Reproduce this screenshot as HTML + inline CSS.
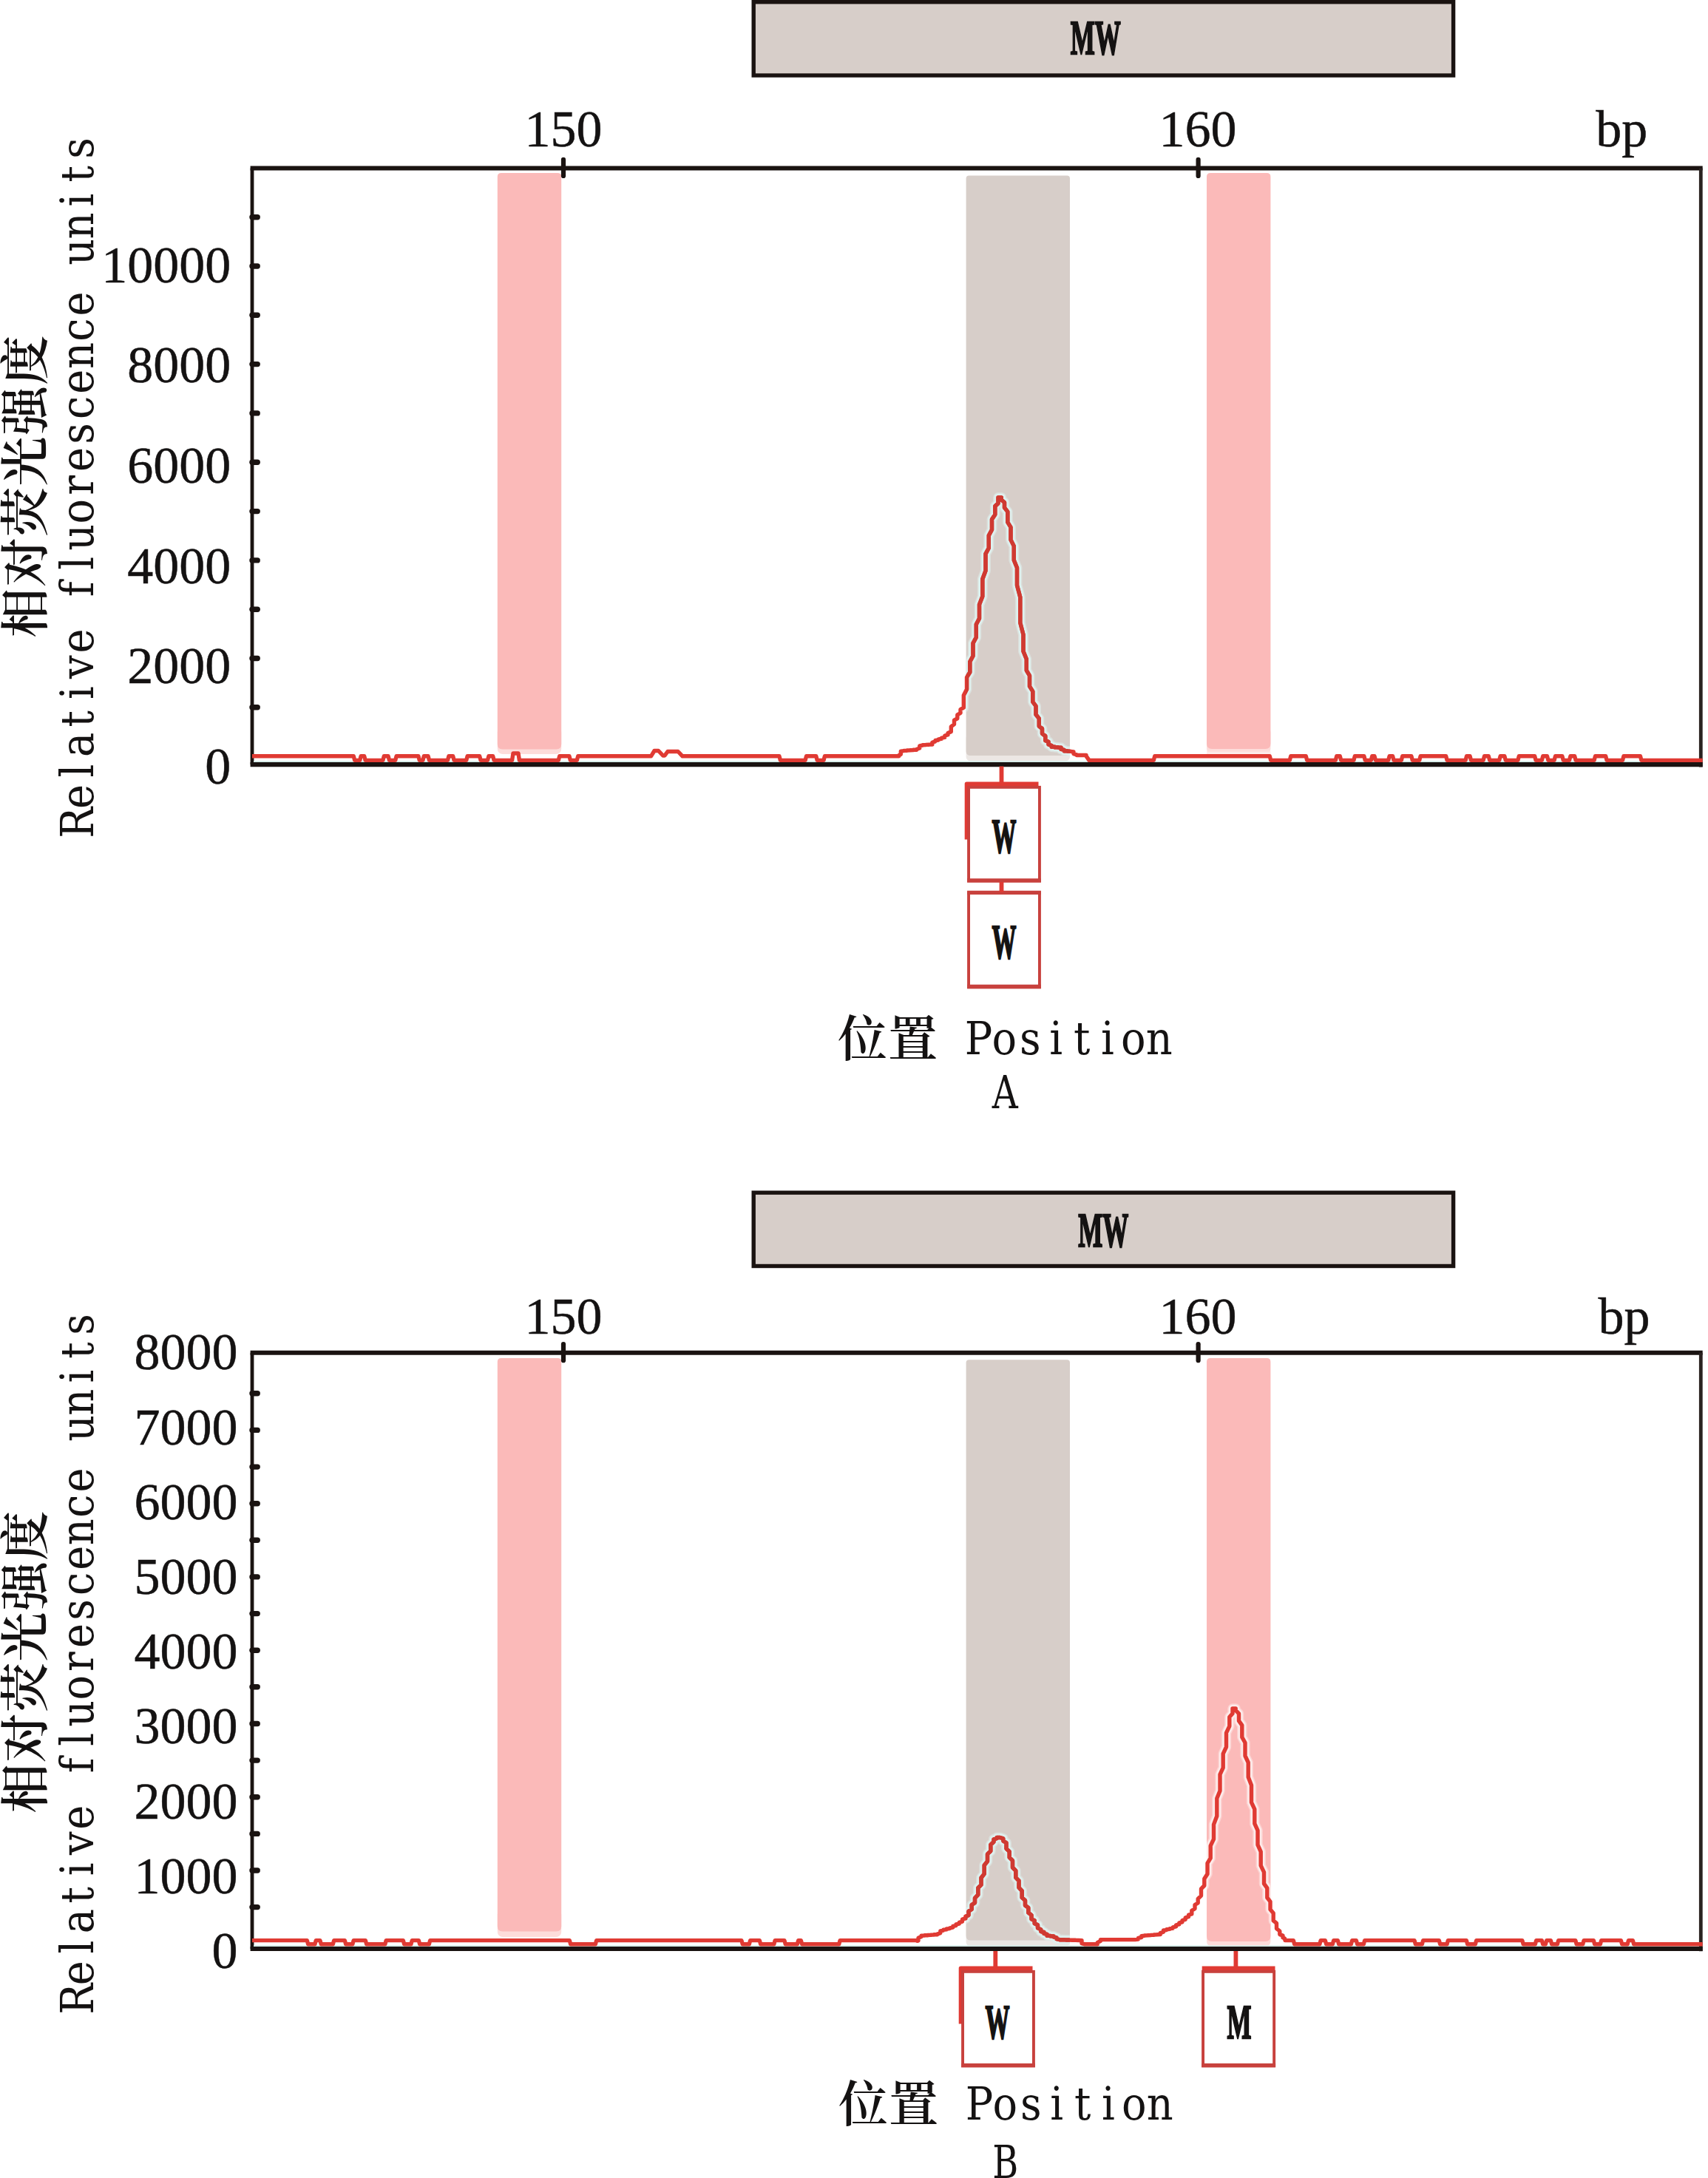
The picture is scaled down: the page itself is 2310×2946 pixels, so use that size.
<!DOCTYPE html>
<html lang="zh"><head><meta charset="utf-8"><title>MW</title>
<style>
html,body{margin:0;padding:0;background:#fff;}
svg{display:block}
.num{font-family:"Liberation Serif","Noto Serif CJK SC",serif;font-size:70px;fill:#141212;stroke:#141212;stroke-width:0.5px;}
.mono{font-family:"DejaVu Serif Condensed","DejaVu Serif","Liberation Serif",serif;font-size:62px;fill:#141212;text-anchor:middle;}
.cjk{font-family:"Liberation Serif","Noto Serif CJK SC",serif;font-size:67px;font-weight:600;fill:#141212;text-anchor:middle;}
.bold{font-family:"Liberation Serif","Noto Serif CJK SC",serif;font-weight:bold;font-size:66px;fill:#141212;stroke:#141212;stroke-width:2.4px;}
</style></head><body>
<svg width="2310" height="2946" viewBox="0 0 2310 2946">
<rect width="2310" height="2946" fill="#fff"/>
<rect x="672.8" y="983.5" width="86.4" height="36.5" rx="7" fill="#fddcda"/>
<path d="M672.8 239 Q672.8 234 677.8 234 H754.1999999999999 Q759.1999999999999 234 759.1999999999999 239 V1006.5 Q759.1999999999999 1013.5 752.1999999999999 1013.5 H679.8 Q672.8 1013.5 672.8 1006.5 Z" fill="#fbbab9"/>
<rect x="1632" y="983" width="86.4" height="37" rx="7" fill="#fddcda"/>
<path d="M1632 239 Q1632 234 1637 234 H1713.4 Q1718.4 234 1718.4 239 V1006 Q1718.4 1013 1711.4 1013 H1639 Q1632 1013 1632 1006 Z" fill="#fbbab9"/>
<rect x="1306.6" y="992" width="140.4" height="37.5" rx="6" fill="#ece7e4"/>
<path d="M1306.6 241.5 Q1306.6 237.5 1310.6 237.5 H1443.0 Q1447.0 237.5 1447.0 241.5 V1016 Q1447.0 1022 1441.0 1022 H1312.6 Q1306.6 1022 1306.6 1016 Z" fill="#d7cec9"/>
<clipPath id="ag"><rect x="1306.6" y="237.5" width="140.4" height="792.0"/></clipPath>
<clipPath id="ap"><rect x="1632" y="234" width="86.4" height="786"/></clipPath>
<g clip-path="url(#ag)"><polyline points="341.0,1022.8 478.3,1022.8 479.7,1028.4 486.7,1028.4 488.1,1022.8 492.7,1022.8 494.1,1028.4 517.9,1028.4 519.3,1022.8 525.1,1022.8 526.5,1028.4 534.7,1028.4 536.1,1022.8 565.9,1022.8 567.3,1028.4 571.9,1028.4 573.3,1022.8 579.1,1022.8 580.5,1028.4 605.5,1028.4 606.9,1022.8 612.7,1022.8 614.1,1028.4 630.7,1028.4 632.1,1022.8 648.7,1022.8 650.1,1028.4 659.5,1028.4 660.9,1022.8 666.7,1022.8 668.1,1028.4 692.0,1028.4 692.6,1028.4 694.0,1019.0 701.0,1019.0 702.4,1028.4 703.0,1028.4 755.3,1028.4 756.7,1022.8 770.0,1022.8 771.4,1028.4 780.3,1028.4 781.7,1022.8 880.0,1022.8 880.5,1022.8 885.0,1015.5 890.5,1015.5 896.6,1022.0 899.0,1022.0 903.0,1016.5 917.0,1016.5 923.0,1022.8 923.5,1022.8 1054.0,1022.8 1055.4,1028.4 1089.1,1028.4 1090.5,1022.8 1103.8,1022.8 1105.2,1028.4 1114.0,1028.4 1115.4,1022.8 1215.7,1022.8 1216.0,1021.5 1218.3,1020.3 1218.3,1016.1 1222.5,1015.6 1222.5,1015.4 1226.8,1015.3 1226.8,1015.0 1231.0,1014.9 1231.0,1014.7 1235.3,1014.6 1235.3,1014.3 1239.5,1014.2 1239.5,1013.5 1243.8,1012.0 1243.8,1008.8 1248.0,1008.0 1248.0,1007.7 1252.3,1007.6 1252.3,1007.4 1256.5,1007.3 1256.5,1007.1 1260.8,1007.0 1260.8,1004.3 1265.0,1002.9 1265.0,1001.5 1269.3,1001.0 1269.3,999.9 1273.5,999.4 1273.5,998.2 1277.8,997.4 1277.8,995.0 1282.0,993.9 1282.0,991.5 1286.3,989.7 1286.3,982.9 1290.5,979.7 1290.5,974.2 1294.8,971.8 1294.8,966.9 1299.0,964.5 1299.0,959.6 1303.3,957.2 1303.3,940.4 1307.5,932.2 1307.5,916.1 1311.8,909.3 1311.8,895.0 1316.0,887.3 1316.0,870.1 1320.3,862.0 1320.3,844.6 1324.5,836.4 1324.5,817.7 1328.8,806.7 1328.8,783.3 1333.0,772.0 1333.0,749.1 1337.3,741.2 1337.3,724.3 1341.5,716.5 1341.5,702.5 1345.8,696.0 1345.8,684.6 1350.0,680.9 1350.0,673.0 1354.3,673.0 1354.3,676.1 1358.5,679.5 1358.5,686.7 1362.8,692.2 1362.8,706.4 1367.0,713.1 1367.0,730.1 1371.3,738.6 1371.3,757.7 1375.5,768.0 1375.5,791.7 1379.8,807.8 1379.8,842.4 1384.0,858.4 1384.0,881.0 1388.3,891.6 1388.3,906.8 1392.5,913.8 1392.5,928.4 1396.8,935.1 1396.8,949.3 1401.0,955.0 1401.0,966.5 1405.3,971.9 1405.3,982.3 1409.5,985.5 1409.5,992.3 1413.8,995.5 1413.8,1001.7 1418.0,1003.3 1418.0,1006.9 1422.3,1008.6 1422.3,1010.2 1426.5,1010.3 1426.5,1010.7 1430.8,1010.8 1430.8,1011.1 1435.0,1011.3 1435.0,1013.4 1439.3,1014.4 1439.3,1015.8 1443.5,1015.8 1443.5,1016.0 1447.8,1016.1 1447.8,1016.3 1452.0,1017.0 1452.0,1019.6 1456.3,1020.8 1456.3,1021.5 1460.5,1021.5 1460.5,1021.5 1464.8,1021.5 1464.8,1021.5 1469.0,1021.5 1469.0,1022.6 1473.0,1028.4 1474.0,1028.4 1560.3,1028.4 1561.7,1022.8 1717.3,1022.8 1718.7,1028.4 1744.3,1028.4 1745.7,1022.8 1766.3,1022.8 1767.7,1028.4 1806.3,1028.4 1807.7,1022.8 1812.3,1022.8 1813.7,1028.4 1830.9,1028.4 1832.3,1022.8 1844.9,1022.8 1846.3,1028.4 1854.3,1028.4 1855.7,1022.8 1859.0,1022.8 1860.4,1028.4 1877.7,1028.4 1879.1,1022.8 1883.6,1022.8 1885.0,1028.4 1895.3,1028.4 1896.7,1022.8 1908.9,1022.8 1910.3,1028.4 1919.7,1028.4 1921.1,1022.8 1955.7,1022.8 1957.1,1028.4 1982.1,1028.4 1983.5,1022.8 1988.1,1022.8 1989.5,1028.4 2006.1,1028.4 2007.5,1022.8 2013.3,1022.8 2014.7,1028.4 2027.7,1028.4 2029.1,1022.8 2034.9,1022.8 2036.3,1028.4 2052.9,1028.4 2054.3,1022.8 2075.7,1022.8 2077.1,1028.4 2085.3,1028.4 2086.7,1022.8 2092.5,1022.8 2093.9,1028.4 2102.1,1028.4 2103.5,1022.8 2112.9,1022.8 2114.3,1028.4 2122.5,1028.4 2123.9,1022.8 2129.7,1022.8 2131.1,1028.4 2156.1,1028.4 2157.5,1022.8 2171.7,1022.8 2173.1,1028.4 2194.5,1028.4 2195.9,1022.8 2218.5,1022.8 2219.9,1028.4 2302.6,1028.4" fill="none" stroke="#dff0ee" stroke-opacity="0.5" stroke-width="14" stroke-linejoin="round"/>
<polyline points="341.0,1022.8 478.3,1022.8 479.7,1028.4 486.7,1028.4 488.1,1022.8 492.7,1022.8 494.1,1028.4 517.9,1028.4 519.3,1022.8 525.1,1022.8 526.5,1028.4 534.7,1028.4 536.1,1022.8 565.9,1022.8 567.3,1028.4 571.9,1028.4 573.3,1022.8 579.1,1022.8 580.5,1028.4 605.5,1028.4 606.9,1022.8 612.7,1022.8 614.1,1028.4 630.7,1028.4 632.1,1022.8 648.7,1022.8 650.1,1028.4 659.5,1028.4 660.9,1022.8 666.7,1022.8 668.1,1028.4 692.0,1028.4 692.6,1028.4 694.0,1019.0 701.0,1019.0 702.4,1028.4 703.0,1028.4 755.3,1028.4 756.7,1022.8 770.0,1022.8 771.4,1028.4 780.3,1028.4 781.7,1022.8 880.0,1022.8 880.5,1022.8 885.0,1015.5 890.5,1015.5 896.6,1022.0 899.0,1022.0 903.0,1016.5 917.0,1016.5 923.0,1022.8 923.5,1022.8 1054.0,1022.8 1055.4,1028.4 1089.1,1028.4 1090.5,1022.8 1103.8,1022.8 1105.2,1028.4 1114.0,1028.4 1115.4,1022.8 1215.7,1022.8 1216.0,1021.5 1218.3,1020.3 1218.3,1016.1 1222.5,1015.6 1222.5,1015.4 1226.8,1015.3 1226.8,1015.0 1231.0,1014.9 1231.0,1014.7 1235.3,1014.6 1235.3,1014.3 1239.5,1014.2 1239.5,1013.5 1243.8,1012.0 1243.8,1008.8 1248.0,1008.0 1248.0,1007.7 1252.3,1007.6 1252.3,1007.4 1256.5,1007.3 1256.5,1007.1 1260.8,1007.0 1260.8,1004.3 1265.0,1002.9 1265.0,1001.5 1269.3,1001.0 1269.3,999.9 1273.5,999.4 1273.5,998.2 1277.8,997.4 1277.8,995.0 1282.0,993.9 1282.0,991.5 1286.3,989.7 1286.3,982.9 1290.5,979.7 1290.5,974.2 1294.8,971.8 1294.8,966.9 1299.0,964.5 1299.0,959.6 1303.3,957.2 1303.3,940.4 1307.5,932.2 1307.5,916.1 1311.8,909.3 1311.8,895.0 1316.0,887.3 1316.0,870.1 1320.3,862.0 1320.3,844.6 1324.5,836.4 1324.5,817.7 1328.8,806.7 1328.8,783.3 1333.0,772.0 1333.0,749.1 1337.3,741.2 1337.3,724.3 1341.5,716.5 1341.5,702.5 1345.8,696.0 1345.8,684.6 1350.0,680.9 1350.0,673.0 1354.3,673.0 1354.3,676.1 1358.5,679.5 1358.5,686.7 1362.8,692.2 1362.8,706.4 1367.0,713.1 1367.0,730.1 1371.3,738.6 1371.3,757.7 1375.5,768.0 1375.5,791.7 1379.8,807.8 1379.8,842.4 1384.0,858.4 1384.0,881.0 1388.3,891.6 1388.3,906.8 1392.5,913.8 1392.5,928.4 1396.8,935.1 1396.8,949.3 1401.0,955.0 1401.0,966.5 1405.3,971.9 1405.3,982.3 1409.5,985.5 1409.5,992.3 1413.8,995.5 1413.8,1001.7 1418.0,1003.3 1418.0,1006.9 1422.3,1008.6 1422.3,1010.2 1426.5,1010.3 1426.5,1010.7 1430.8,1010.8 1430.8,1011.1 1435.0,1011.3 1435.0,1013.4 1439.3,1014.4 1439.3,1015.8 1443.5,1015.8 1443.5,1016.0 1447.8,1016.1 1447.8,1016.3 1452.0,1017.0 1452.0,1019.6 1456.3,1020.8 1456.3,1021.5 1460.5,1021.5 1460.5,1021.5 1464.8,1021.5 1464.8,1021.5 1469.0,1021.5 1469.0,1022.6 1473.0,1028.4 1474.0,1028.4 1560.3,1028.4 1561.7,1022.8 1717.3,1022.8 1718.7,1028.4 1744.3,1028.4 1745.7,1022.8 1766.3,1022.8 1767.7,1028.4 1806.3,1028.4 1807.7,1022.8 1812.3,1022.8 1813.7,1028.4 1830.9,1028.4 1832.3,1022.8 1844.9,1022.8 1846.3,1028.4 1854.3,1028.4 1855.7,1022.8 1859.0,1022.8 1860.4,1028.4 1877.7,1028.4 1879.1,1022.8 1883.6,1022.8 1885.0,1028.4 1895.3,1028.4 1896.7,1022.8 1908.9,1022.8 1910.3,1028.4 1919.7,1028.4 1921.1,1022.8 1955.7,1022.8 1957.1,1028.4 1982.1,1028.4 1983.5,1022.8 1988.1,1022.8 1989.5,1028.4 2006.1,1028.4 2007.5,1022.8 2013.3,1022.8 2014.7,1028.4 2027.7,1028.4 2029.1,1022.8 2034.9,1022.8 2036.3,1028.4 2052.9,1028.4 2054.3,1022.8 2075.7,1022.8 2077.1,1028.4 2085.3,1028.4 2086.7,1022.8 2092.5,1022.8 2093.9,1028.4 2102.1,1028.4 2103.5,1022.8 2112.9,1022.8 2114.3,1028.4 2122.5,1028.4 2123.9,1022.8 2129.7,1022.8 2131.1,1028.4 2156.1,1028.4 2157.5,1022.8 2171.7,1022.8 2173.1,1028.4 2194.5,1028.4 2195.9,1022.8 2218.5,1022.8 2219.9,1028.4 2302.6,1028.4" fill="none" stroke="#dff0ee" stroke-width="11" stroke-linejoin="round"/></g>
<g clip-path="url(#ap)"><polyline points="341.0,1022.8 478.3,1022.8 479.7,1028.4 486.7,1028.4 488.1,1022.8 492.7,1022.8 494.1,1028.4 517.9,1028.4 519.3,1022.8 525.1,1022.8 526.5,1028.4 534.7,1028.4 536.1,1022.8 565.9,1022.8 567.3,1028.4 571.9,1028.4 573.3,1022.8 579.1,1022.8 580.5,1028.4 605.5,1028.4 606.9,1022.8 612.7,1022.8 614.1,1028.4 630.7,1028.4 632.1,1022.8 648.7,1022.8 650.1,1028.4 659.5,1028.4 660.9,1022.8 666.7,1022.8 668.1,1028.4 692.0,1028.4 692.6,1028.4 694.0,1019.0 701.0,1019.0 702.4,1028.4 703.0,1028.4 755.3,1028.4 756.7,1022.8 770.0,1022.8 771.4,1028.4 780.3,1028.4 781.7,1022.8 880.0,1022.8 880.5,1022.8 885.0,1015.5 890.5,1015.5 896.6,1022.0 899.0,1022.0 903.0,1016.5 917.0,1016.5 923.0,1022.8 923.5,1022.8 1054.0,1022.8 1055.4,1028.4 1089.1,1028.4 1090.5,1022.8 1103.8,1022.8 1105.2,1028.4 1114.0,1028.4 1115.4,1022.8 1215.7,1022.8 1216.0,1021.5 1218.3,1020.3 1218.3,1016.1 1222.5,1015.6 1222.5,1015.4 1226.8,1015.3 1226.8,1015.0 1231.0,1014.9 1231.0,1014.7 1235.3,1014.6 1235.3,1014.3 1239.5,1014.2 1239.5,1013.5 1243.8,1012.0 1243.8,1008.8 1248.0,1008.0 1248.0,1007.7 1252.3,1007.6 1252.3,1007.4 1256.5,1007.3 1256.5,1007.1 1260.8,1007.0 1260.8,1004.3 1265.0,1002.9 1265.0,1001.5 1269.3,1001.0 1269.3,999.9 1273.5,999.4 1273.5,998.2 1277.8,997.4 1277.8,995.0 1282.0,993.9 1282.0,991.5 1286.3,989.7 1286.3,982.9 1290.5,979.7 1290.5,974.2 1294.8,971.8 1294.8,966.9 1299.0,964.5 1299.0,959.6 1303.3,957.2 1303.3,940.4 1307.5,932.2 1307.5,916.1 1311.8,909.3 1311.8,895.0 1316.0,887.3 1316.0,870.1 1320.3,862.0 1320.3,844.6 1324.5,836.4 1324.5,817.7 1328.8,806.7 1328.8,783.3 1333.0,772.0 1333.0,749.1 1337.3,741.2 1337.3,724.3 1341.5,716.5 1341.5,702.5 1345.8,696.0 1345.8,684.6 1350.0,680.9 1350.0,673.0 1354.3,673.0 1354.3,676.1 1358.5,679.5 1358.5,686.7 1362.8,692.2 1362.8,706.4 1367.0,713.1 1367.0,730.1 1371.3,738.6 1371.3,757.7 1375.5,768.0 1375.5,791.7 1379.8,807.8 1379.8,842.4 1384.0,858.4 1384.0,881.0 1388.3,891.6 1388.3,906.8 1392.5,913.8 1392.5,928.4 1396.8,935.1 1396.8,949.3 1401.0,955.0 1401.0,966.5 1405.3,971.9 1405.3,982.3 1409.5,985.5 1409.5,992.3 1413.8,995.5 1413.8,1001.7 1418.0,1003.3 1418.0,1006.9 1422.3,1008.6 1422.3,1010.2 1426.5,1010.3 1426.5,1010.7 1430.8,1010.8 1430.8,1011.1 1435.0,1011.3 1435.0,1013.4 1439.3,1014.4 1439.3,1015.8 1443.5,1015.8 1443.5,1016.0 1447.8,1016.1 1447.8,1016.3 1452.0,1017.0 1452.0,1019.6 1456.3,1020.8 1456.3,1021.5 1460.5,1021.5 1460.5,1021.5 1464.8,1021.5 1464.8,1021.5 1469.0,1021.5 1469.0,1022.6 1473.0,1028.4 1474.0,1028.4 1560.3,1028.4 1561.7,1022.8 1717.3,1022.8 1718.7,1028.4 1744.3,1028.4 1745.7,1022.8 1766.3,1022.8 1767.7,1028.4 1806.3,1028.4 1807.7,1022.8 1812.3,1022.8 1813.7,1028.4 1830.9,1028.4 1832.3,1022.8 1844.9,1022.8 1846.3,1028.4 1854.3,1028.4 1855.7,1022.8 1859.0,1022.8 1860.4,1028.4 1877.7,1028.4 1879.1,1022.8 1883.6,1022.8 1885.0,1028.4 1895.3,1028.4 1896.7,1022.8 1908.9,1022.8 1910.3,1028.4 1919.7,1028.4 1921.1,1022.8 1955.7,1022.8 1957.1,1028.4 1982.1,1028.4 1983.5,1022.8 1988.1,1022.8 1989.5,1028.4 2006.1,1028.4 2007.5,1022.8 2013.3,1022.8 2014.7,1028.4 2027.7,1028.4 2029.1,1022.8 2034.9,1022.8 2036.3,1028.4 2052.9,1028.4 2054.3,1022.8 2075.7,1022.8 2077.1,1028.4 2085.3,1028.4 2086.7,1022.8 2092.5,1022.8 2093.9,1028.4 2102.1,1028.4 2103.5,1022.8 2112.9,1022.8 2114.3,1028.4 2122.5,1028.4 2123.9,1022.8 2129.7,1022.8 2131.1,1028.4 2156.1,1028.4 2157.5,1022.8 2171.7,1022.8 2173.1,1028.4 2194.5,1028.4 2195.9,1022.8 2218.5,1022.8 2219.9,1028.4 2302.6,1028.4" fill="none" stroke="#fde3e1" stroke-opacity="0.6" stroke-width="13.5" stroke-linejoin="round"/>
<polyline points="341.0,1022.8 478.3,1022.8 479.7,1028.4 486.7,1028.4 488.1,1022.8 492.7,1022.8 494.1,1028.4 517.9,1028.4 519.3,1022.8 525.1,1022.8 526.5,1028.4 534.7,1028.4 536.1,1022.8 565.9,1022.8 567.3,1028.4 571.9,1028.4 573.3,1022.8 579.1,1022.8 580.5,1028.4 605.5,1028.4 606.9,1022.8 612.7,1022.8 614.1,1028.4 630.7,1028.4 632.1,1022.8 648.7,1022.8 650.1,1028.4 659.5,1028.4 660.9,1022.8 666.7,1022.8 668.1,1028.4 692.0,1028.4 692.6,1028.4 694.0,1019.0 701.0,1019.0 702.4,1028.4 703.0,1028.4 755.3,1028.4 756.7,1022.8 770.0,1022.8 771.4,1028.4 780.3,1028.4 781.7,1022.8 880.0,1022.8 880.5,1022.8 885.0,1015.5 890.5,1015.5 896.6,1022.0 899.0,1022.0 903.0,1016.5 917.0,1016.5 923.0,1022.8 923.5,1022.8 1054.0,1022.8 1055.4,1028.4 1089.1,1028.4 1090.5,1022.8 1103.8,1022.8 1105.2,1028.4 1114.0,1028.4 1115.4,1022.8 1215.7,1022.8 1216.0,1021.5 1218.3,1020.3 1218.3,1016.1 1222.5,1015.6 1222.5,1015.4 1226.8,1015.3 1226.8,1015.0 1231.0,1014.9 1231.0,1014.7 1235.3,1014.6 1235.3,1014.3 1239.5,1014.2 1239.5,1013.5 1243.8,1012.0 1243.8,1008.8 1248.0,1008.0 1248.0,1007.7 1252.3,1007.6 1252.3,1007.4 1256.5,1007.3 1256.5,1007.1 1260.8,1007.0 1260.8,1004.3 1265.0,1002.9 1265.0,1001.5 1269.3,1001.0 1269.3,999.9 1273.5,999.4 1273.5,998.2 1277.8,997.4 1277.8,995.0 1282.0,993.9 1282.0,991.5 1286.3,989.7 1286.3,982.9 1290.5,979.7 1290.5,974.2 1294.8,971.8 1294.8,966.9 1299.0,964.5 1299.0,959.6 1303.3,957.2 1303.3,940.4 1307.5,932.2 1307.5,916.1 1311.8,909.3 1311.8,895.0 1316.0,887.3 1316.0,870.1 1320.3,862.0 1320.3,844.6 1324.5,836.4 1324.5,817.7 1328.8,806.7 1328.8,783.3 1333.0,772.0 1333.0,749.1 1337.3,741.2 1337.3,724.3 1341.5,716.5 1341.5,702.5 1345.8,696.0 1345.8,684.6 1350.0,680.9 1350.0,673.0 1354.3,673.0 1354.3,676.1 1358.5,679.5 1358.5,686.7 1362.8,692.2 1362.8,706.4 1367.0,713.1 1367.0,730.1 1371.3,738.6 1371.3,757.7 1375.5,768.0 1375.5,791.7 1379.8,807.8 1379.8,842.4 1384.0,858.4 1384.0,881.0 1388.3,891.6 1388.3,906.8 1392.5,913.8 1392.5,928.4 1396.8,935.1 1396.8,949.3 1401.0,955.0 1401.0,966.5 1405.3,971.9 1405.3,982.3 1409.5,985.5 1409.5,992.3 1413.8,995.5 1413.8,1001.7 1418.0,1003.3 1418.0,1006.9 1422.3,1008.6 1422.3,1010.2 1426.5,1010.3 1426.5,1010.7 1430.8,1010.8 1430.8,1011.1 1435.0,1011.3 1435.0,1013.4 1439.3,1014.4 1439.3,1015.8 1443.5,1015.8 1443.5,1016.0 1447.8,1016.1 1447.8,1016.3 1452.0,1017.0 1452.0,1019.6 1456.3,1020.8 1456.3,1021.5 1460.5,1021.5 1460.5,1021.5 1464.8,1021.5 1464.8,1021.5 1469.0,1021.5 1469.0,1022.6 1473.0,1028.4 1474.0,1028.4 1560.3,1028.4 1561.7,1022.8 1717.3,1022.8 1718.7,1028.4 1744.3,1028.4 1745.7,1022.8 1766.3,1022.8 1767.7,1028.4 1806.3,1028.4 1807.7,1022.8 1812.3,1022.8 1813.7,1028.4 1830.9,1028.4 1832.3,1022.8 1844.9,1022.8 1846.3,1028.4 1854.3,1028.4 1855.7,1022.8 1859.0,1022.8 1860.4,1028.4 1877.7,1028.4 1879.1,1022.8 1883.6,1022.8 1885.0,1028.4 1895.3,1028.4 1896.7,1022.8 1908.9,1022.8 1910.3,1028.4 1919.7,1028.4 1921.1,1022.8 1955.7,1022.8 1957.1,1028.4 1982.1,1028.4 1983.5,1022.8 1988.1,1022.8 1989.5,1028.4 2006.1,1028.4 2007.5,1022.8 2013.3,1022.8 2014.7,1028.4 2027.7,1028.4 2029.1,1022.8 2034.9,1022.8 2036.3,1028.4 2052.9,1028.4 2054.3,1022.8 2075.7,1022.8 2077.1,1028.4 2085.3,1028.4 2086.7,1022.8 2092.5,1022.8 2093.9,1028.4 2102.1,1028.4 2103.5,1022.8 2112.9,1022.8 2114.3,1028.4 2122.5,1028.4 2123.9,1022.8 2129.7,1022.8 2131.1,1028.4 2156.1,1028.4 2157.5,1022.8 2171.7,1022.8 2173.1,1028.4 2194.5,1028.4 2195.9,1022.8 2218.5,1022.8 2219.9,1028.4 2302.6,1028.4" fill="none" stroke="#fdeceb" stroke-width="10.5" stroke-linejoin="round"/></g>
<line x1="338.6" y1="227.4" x2="2302.7" y2="227.4" stroke="#1a1311" stroke-width="6"/>
<line x1="341" y1="1034.1" x2="341" y2="227.4" stroke="#1a1311" stroke-width="4.8"/>
<line x1="2300.3" y1="227.4" x2="2300.3" y2="1037.3999999999999" stroke="#2a2220" stroke-width="4.8"/>
<line x1="343" y1="1030.1999999999998" x2="2298" y2="1030.1999999999998" stroke="#d3ebe7" stroke-width="1.8"/>
<line x1="338.6" y1="1034.1" x2="2302.7" y2="1034.1" stroke="#1a1311" stroke-width="6.2"/>
<line x1="341" y1="293.7" x2="348.2" y2="293.7" stroke="#1a1311" stroke-width="7.4" stroke-linecap="round"/>
<line x1="341" y1="360.0" x2="348.2" y2="360.0" stroke="#1a1311" stroke-width="7.4" stroke-linecap="round"/>
<line x1="341" y1="426.3" x2="348.2" y2="426.3" stroke="#1a1311" stroke-width="7.4" stroke-linecap="round"/>
<line x1="341" y1="492.6" x2="348.2" y2="492.6" stroke="#1a1311" stroke-width="7.4" stroke-linecap="round"/>
<line x1="341" y1="558.9" x2="348.2" y2="558.9" stroke="#1a1311" stroke-width="7.4" stroke-linecap="round"/>
<line x1="341" y1="625.2" x2="348.2" y2="625.2" stroke="#1a1311" stroke-width="7.4" stroke-linecap="round"/>
<line x1="341" y1="691.6" x2="348.2" y2="691.6" stroke="#1a1311" stroke-width="7.4" stroke-linecap="round"/>
<line x1="341" y1="757.9" x2="348.2" y2="757.9" stroke="#1a1311" stroke-width="7.4" stroke-linecap="round"/>
<line x1="341" y1="824.2" x2="348.2" y2="824.2" stroke="#1a1311" stroke-width="7.4" stroke-linecap="round"/>
<line x1="341" y1="890.5" x2="348.2" y2="890.5" stroke="#1a1311" stroke-width="7.4" stroke-linecap="round"/>
<line x1="341" y1="956.8" x2="348.2" y2="956.8" stroke="#1a1311" stroke-width="7.4" stroke-linecap="round"/>
<line x1="762" y1="215.9" x2="762" y2="237.9" stroke="#1a1311" stroke-width="6.2" stroke-linecap="round"/>
<line x1="1620.6" y1="215.9" x2="1620.6" y2="237.9" stroke="#1a1311" stroke-width="6.2" stroke-linecap="round"/>
<polyline points="341.0,1022.8 478.3,1022.8 479.7,1028.4 486.7,1028.4 488.1,1022.8 492.7,1022.8 494.1,1028.4 517.9,1028.4 519.3,1022.8 525.1,1022.8 526.5,1028.4 534.7,1028.4 536.1,1022.8 565.9,1022.8 567.3,1028.4 571.9,1028.4 573.3,1022.8 579.1,1022.8 580.5,1028.4 605.5,1028.4 606.9,1022.8 612.7,1022.8 614.1,1028.4 630.7,1028.4 632.1,1022.8 648.7,1022.8 650.1,1028.4 659.5,1028.4 660.9,1022.8 666.7,1022.8 668.1,1028.4 692.0,1028.4 692.6,1028.4 694.0,1019.0 701.0,1019.0 702.4,1028.4 703.0,1028.4 755.3,1028.4 756.7,1022.8 770.0,1022.8 771.4,1028.4 780.3,1028.4 781.7,1022.8 880.0,1022.8 880.5,1022.8 885.0,1015.5 890.5,1015.5 896.6,1022.0 899.0,1022.0 903.0,1016.5 917.0,1016.5 923.0,1022.8 923.5,1022.8 1054.0,1022.8 1055.4,1028.4 1089.1,1028.4 1090.5,1022.8 1103.8,1022.8 1105.2,1028.4 1114.0,1028.4 1115.4,1022.8 1215.7,1022.8 1216.0,1021.5 1218.3,1020.3 1218.3,1016.1 1222.5,1015.6 1222.5,1015.4 1226.8,1015.3 1226.8,1015.0 1231.0,1014.9 1231.0,1014.7 1235.3,1014.6 1235.3,1014.3 1239.5,1014.2 1239.5,1013.5 1243.8,1012.0 1243.8,1008.8 1248.0,1008.0 1248.0,1007.7 1252.3,1007.6 1252.3,1007.4 1256.5,1007.3 1256.5,1007.1 1260.8,1007.0 1260.8,1004.3 1265.0,1002.9 1265.0,1001.5 1269.3,1001.0 1269.3,999.9 1273.5,999.4 1273.5,998.2 1277.8,997.4 1277.8,995.0 1282.0,993.9 1282.0,991.5 1286.3,989.7 1286.3,982.9 1290.5,979.7 1290.5,974.2 1294.8,971.8 1294.8,966.9 1299.0,964.5 1299.0,959.6 1303.3,957.2 1303.3,940.4 1307.5,932.2 1307.5,916.1 1311.8,909.3 1311.8,895.0 1316.0,887.3 1316.0,870.1 1320.3,862.0 1320.3,844.6 1324.5,836.4 1324.5,817.7 1328.8,806.7 1328.8,783.3 1333.0,772.0 1333.0,749.1 1337.3,741.2 1337.3,724.3 1341.5,716.5 1341.5,702.5 1345.8,696.0 1345.8,684.6 1350.0,680.9 1350.0,673.0 1354.3,673.0 1354.3,676.1 1358.5,679.5 1358.5,686.7 1362.8,692.2 1362.8,706.4 1367.0,713.1 1367.0,730.1 1371.3,738.6 1371.3,757.7 1375.5,768.0 1375.5,791.7 1379.8,807.8 1379.8,842.4 1384.0,858.4 1384.0,881.0 1388.3,891.6 1388.3,906.8 1392.5,913.8 1392.5,928.4 1396.8,935.1 1396.8,949.3 1401.0,955.0 1401.0,966.5 1405.3,971.9 1405.3,982.3 1409.5,985.5 1409.5,992.3 1413.8,995.5 1413.8,1001.7 1418.0,1003.3 1418.0,1006.9 1422.3,1008.6 1422.3,1010.2 1426.5,1010.3 1426.5,1010.7 1430.8,1010.8 1430.8,1011.1 1435.0,1011.3 1435.0,1013.4 1439.3,1014.4 1439.3,1015.8 1443.5,1015.8 1443.5,1016.0 1447.8,1016.1 1447.8,1016.3 1452.0,1017.0 1452.0,1019.6 1456.3,1020.8 1456.3,1021.5 1460.5,1021.5 1460.5,1021.5 1464.8,1021.5 1464.8,1021.5 1469.0,1021.5 1469.0,1022.6 1473.0,1028.4 1474.0,1028.4 1560.3,1028.4 1561.7,1022.8 1717.3,1022.8 1718.7,1028.4 1744.3,1028.4 1745.7,1022.8 1766.3,1022.8 1767.7,1028.4 1806.3,1028.4 1807.7,1022.8 1812.3,1022.8 1813.7,1028.4 1830.9,1028.4 1832.3,1022.8 1844.9,1022.8 1846.3,1028.4 1854.3,1028.4 1855.7,1022.8 1859.0,1022.8 1860.4,1028.4 1877.7,1028.4 1879.1,1022.8 1883.6,1022.8 1885.0,1028.4 1895.3,1028.4 1896.7,1022.8 1908.9,1022.8 1910.3,1028.4 1919.7,1028.4 1921.1,1022.8 1955.7,1022.8 1957.1,1028.4 1982.1,1028.4 1983.5,1022.8 1988.1,1022.8 1989.5,1028.4 2006.1,1028.4 2007.5,1022.8 2013.3,1022.8 2014.7,1028.4 2027.7,1028.4 2029.1,1022.8 2034.9,1022.8 2036.3,1028.4 2052.9,1028.4 2054.3,1022.8 2075.7,1022.8 2077.1,1028.4 2085.3,1028.4 2086.7,1022.8 2092.5,1022.8 2093.9,1028.4 2102.1,1028.4 2103.5,1022.8 2112.9,1022.8 2114.3,1028.4 2122.5,1028.4 2123.9,1022.8 2129.7,1022.8 2131.1,1028.4 2156.1,1028.4 2157.5,1022.8 2171.7,1022.8 2173.1,1028.4 2194.5,1028.4 2195.9,1022.8 2218.5,1022.8 2219.9,1028.4 2302.6,1028.4" fill="none" stroke="#e03a33" stroke-width="5.4" stroke-linejoin="round"/>
<polyline clip-path="url(#ag)" points="341.0,1022.8 478.3,1022.8 479.7,1028.4 486.7,1028.4 488.1,1022.8 492.7,1022.8 494.1,1028.4 517.9,1028.4 519.3,1022.8 525.1,1022.8 526.5,1028.4 534.7,1028.4 536.1,1022.8 565.9,1022.8 567.3,1028.4 571.9,1028.4 573.3,1022.8 579.1,1022.8 580.5,1028.4 605.5,1028.4 606.9,1022.8 612.7,1022.8 614.1,1028.4 630.7,1028.4 632.1,1022.8 648.7,1022.8 650.1,1028.4 659.5,1028.4 660.9,1022.8 666.7,1022.8 668.1,1028.4 692.0,1028.4 692.6,1028.4 694.0,1019.0 701.0,1019.0 702.4,1028.4 703.0,1028.4 755.3,1028.4 756.7,1022.8 770.0,1022.8 771.4,1028.4 780.3,1028.4 781.7,1022.8 880.0,1022.8 880.5,1022.8 885.0,1015.5 890.5,1015.5 896.6,1022.0 899.0,1022.0 903.0,1016.5 917.0,1016.5 923.0,1022.8 923.5,1022.8 1054.0,1022.8 1055.4,1028.4 1089.1,1028.4 1090.5,1022.8 1103.8,1022.8 1105.2,1028.4 1114.0,1028.4 1115.4,1022.8 1215.7,1022.8 1216.0,1021.5 1218.3,1020.3 1218.3,1016.1 1222.5,1015.6 1222.5,1015.4 1226.8,1015.3 1226.8,1015.0 1231.0,1014.9 1231.0,1014.7 1235.3,1014.6 1235.3,1014.3 1239.5,1014.2 1239.5,1013.5 1243.8,1012.0 1243.8,1008.8 1248.0,1008.0 1248.0,1007.7 1252.3,1007.6 1252.3,1007.4 1256.5,1007.3 1256.5,1007.1 1260.8,1007.0 1260.8,1004.3 1265.0,1002.9 1265.0,1001.5 1269.3,1001.0 1269.3,999.9 1273.5,999.4 1273.5,998.2 1277.8,997.4 1277.8,995.0 1282.0,993.9 1282.0,991.5 1286.3,989.7 1286.3,982.9 1290.5,979.7 1290.5,974.2 1294.8,971.8 1294.8,966.9 1299.0,964.5 1299.0,959.6 1303.3,957.2 1303.3,940.4 1307.5,932.2 1307.5,916.1 1311.8,909.3 1311.8,895.0 1316.0,887.3 1316.0,870.1 1320.3,862.0 1320.3,844.6 1324.5,836.4 1324.5,817.7 1328.8,806.7 1328.8,783.3 1333.0,772.0 1333.0,749.1 1337.3,741.2 1337.3,724.3 1341.5,716.5 1341.5,702.5 1345.8,696.0 1345.8,684.6 1350.0,680.9 1350.0,673.0 1354.3,673.0 1354.3,676.1 1358.5,679.5 1358.5,686.7 1362.8,692.2 1362.8,706.4 1367.0,713.1 1367.0,730.1 1371.3,738.6 1371.3,757.7 1375.5,768.0 1375.5,791.7 1379.8,807.8 1379.8,842.4 1384.0,858.4 1384.0,881.0 1388.3,891.6 1388.3,906.8 1392.5,913.8 1392.5,928.4 1396.8,935.1 1396.8,949.3 1401.0,955.0 1401.0,966.5 1405.3,971.9 1405.3,982.3 1409.5,985.5 1409.5,992.3 1413.8,995.5 1413.8,1001.7 1418.0,1003.3 1418.0,1006.9 1422.3,1008.6 1422.3,1010.2 1426.5,1010.3 1426.5,1010.7 1430.8,1010.8 1430.8,1011.1 1435.0,1011.3 1435.0,1013.4 1439.3,1014.4 1439.3,1015.8 1443.5,1015.8 1443.5,1016.0 1447.8,1016.1 1447.8,1016.3 1452.0,1017.0 1452.0,1019.6 1456.3,1020.8 1456.3,1021.5 1460.5,1021.5 1460.5,1021.5 1464.8,1021.5 1464.8,1021.5 1469.0,1021.5 1469.0,1022.6 1473.0,1028.4 1474.0,1028.4 1560.3,1028.4 1561.7,1022.8 1717.3,1022.8 1718.7,1028.4 1744.3,1028.4 1745.7,1022.8 1766.3,1022.8 1767.7,1028.4 1806.3,1028.4 1807.7,1022.8 1812.3,1022.8 1813.7,1028.4 1830.9,1028.4 1832.3,1022.8 1844.9,1022.8 1846.3,1028.4 1854.3,1028.4 1855.7,1022.8 1859.0,1022.8 1860.4,1028.4 1877.7,1028.4 1879.1,1022.8 1883.6,1022.8 1885.0,1028.4 1895.3,1028.4 1896.7,1022.8 1908.9,1022.8 1910.3,1028.4 1919.7,1028.4 1921.1,1022.8 1955.7,1022.8 1957.1,1028.4 1982.1,1028.4 1983.5,1022.8 1988.1,1022.8 1989.5,1028.4 2006.1,1028.4 2007.5,1022.8 2013.3,1022.8 2014.7,1028.4 2027.7,1028.4 2029.1,1022.8 2034.9,1022.8 2036.3,1028.4 2052.9,1028.4 2054.3,1022.8 2075.7,1022.8 2077.1,1028.4 2085.3,1028.4 2086.7,1022.8 2092.5,1022.8 2093.9,1028.4 2102.1,1028.4 2103.5,1022.8 2112.9,1022.8 2114.3,1028.4 2122.5,1028.4 2123.9,1022.8 2129.7,1022.8 2131.1,1028.4 2156.1,1028.4 2157.5,1022.8 2171.7,1022.8 2173.1,1028.4 2194.5,1028.4 2195.9,1022.8 2218.5,1022.8 2219.9,1028.4 2302.6,1028.4" fill="none" stroke="#cf3a32" stroke-width="5.4" stroke-linejoin="round"/>
<text class="num" x="312.2" y="381.7" text-anchor="end">10000</text>
<text class="num" x="312.2" y="517.3" text-anchor="end">8000</text>
<text class="num" x="312.2" y="652.9" text-anchor="end">6000</text>
<text class="num" x="312.2" y="788.6" text-anchor="end">4000</text>
<text class="num" x="312.2" y="924.2" text-anchor="end">2000</text>
<text class="num" x="312.2" y="1059.8" text-anchor="end">0</text>
<text class="num" x="762" y="197.8" text-anchor="middle">150</text>
<text class="num" x="1620" y="197.8" text-anchor="middle">160</text>
<text class="num" x="2193.2" y="197.8" text-anchor="middle">bp</text>
<rect x="1019.2" y="2.7" width="946.4" height="99.3" fill="#d7cec9" stroke="#1a1311" stroke-width="5.4"/>
<text class="bold" x="1447.8" y="72.8" textLength="68" lengthAdjust="spacingAndGlyphs">MW</text>
<rect x="672.8" y="2582.5" width="86.4" height="37.5" rx="7" fill="#fddcda"/>
<path d="M672.8 1842 Q672.8 1837 677.8 1837 H754.1999999999999 Q759.1999999999999 1837 759.1999999999999 1842 V2605.5 Q759.1999999999999 2612.5 752.1999999999999 2612.5 H679.8 Q672.8 2612.5 672.8 2605.5 Z" fill="#fbbab9"/>
<rect x="1632" y="2596" width="86.4" height="37" rx="7" fill="#fddcda"/>
<path d="M1632 1842 Q1632 1837 1637 1837 H1713.4 Q1718.4 1837 1718.4 1842 V2619 Q1718.4 2626 1711.4 2626 H1639 Q1632 2626 1632 2619 Z" fill="#fbbab9"/>
<rect x="1306.6" y="2594.5" width="140.4" height="38.19999999999982" rx="6" fill="#ece7e4"/>
<path d="M1306.6 1843.2 Q1306.6 1839.2 1310.6 1839.2 H1443.0 Q1447.0 1839.2 1447.0 1843.2 V2618.5 Q1447.0 2624.5 1441.0 2624.5 H1312.6 Q1306.6 2624.5 1306.6 2618.5 Z" fill="#d7cec9"/>
<clipPath id="bg"><rect x="1306.6" y="1839.2" width="140.4" height="793.4999999999998"/></clipPath>
<clipPath id="bp"><rect x="1632" y="1837" width="86.4" height="796"/></clipPath>
<g clip-path="url(#bg)"><polyline points="341.0,2624.6 415.3,2624.6 416.7,2629.8 425.9,2629.8 427.3,2624.6 432.9,2624.6 434.3,2629.8 450.3,2629.8 451.7,2624.6 466.3,2624.6 467.7,2629.8 476.8,2629.8 478.2,2624.6 494.3,2624.6 495.7,2629.8 520.8,2629.8 522.2,2624.6 545.3,2624.6 546.7,2629.8 555.9,2629.8 557.3,2624.6 566.3,2624.6 567.7,2629.8 580.3,2629.8 581.7,2624.6 770.3,2624.6 771.7,2629.8 805.3,2629.8 806.7,2624.6 1002.9,2624.6 1004.3,2629.8 1013.3,2629.8 1014.7,2624.6 1027.3,2624.6 1028.7,2629.8 1046.8,2629.8 1048.2,2624.6 1060.9,2624.6 1062.3,2629.8 1078.3,2629.8 1079.7,2624.6 1083.3,2624.6 1084.7,2629.8 1134.7,2629.8 1136.1,2624.6 1240.4,2624.6 1240.4,2625.3 1242.0,2625.1 1242.0,2621.3 1246.2,2619.5 1246.2,2618.1 1250.5,2618.0 1250.5,2617.8 1254.8,2617.7 1254.8,2617.5 1259.0,2617.4 1259.0,2617.1 1263.2,2617.0 1263.2,2616.8 1267.5,2616.7 1267.5,2616.1 1271.8,2614.7 1271.8,2611.9 1276.0,2611.1 1276.0,2610.3 1280.2,2609.9 1280.2,2609.0 1284.5,2608.6 1284.5,2607.8 1288.8,2607.1 1288.8,2605.4 1293.0,2604.6 1293.0,2603.0 1297.2,2602.2 1297.2,2600.4 1301.5,2599.1 1301.5,2596.2 1305.8,2594.9 1305.8,2592.0 1310.0,2590.6 1310.0,2585.2 1314.2,2582.4 1314.2,2576.6 1318.5,2573.8 1318.5,2567.3 1322.8,2562.9 1322.8,2553.7 1327.0,2549.4 1327.0,2540.0 1331.2,2534.6 1331.2,2523.0 1335.5,2517.6 1335.5,2507.9 1339.8,2503.8 1339.8,2495.3 1344.0,2491.3 1344.0,2487.8 1348.2,2486.6 1348.2,2485.5 1352.5,2485.5 1352.5,2485.5 1356.8,2486.9 1356.8,2490.1 1361.0,2492.5 1361.0,2500.6 1365.2,2504.4 1365.2,2512.4 1369.5,2516.7 1369.5,2526.0 1373.8,2530.4 1373.8,2539.7 1378.0,2544.0 1378.0,2553.2 1382.2,2557.6 1382.2,2566.8 1386.5,2570.5 1386.5,2577.3 1390.8,2580.4 1390.8,2587.2 1395.0,2590.3 1395.0,2595.8 1399.2,2597.7 1399.2,2601.8 1403.5,2603.8 1403.5,2607.9 1407.8,2609.9 1407.8,2612.6 1412.0,2613.5 1412.0,2615.4 1416.2,2616.3 1416.2,2618.2 1420.5,2618.4 1420.5,2618.7 1424.8,2618.9 1424.8,2619.9 1429.0,2620.8 1429.0,2622.7 1433.2,2623.6 1433.2,2623.7 1437.5,2623.7 1437.5,2623.8 1441.8,2623.9 1441.8,2624.0 1446.0,2624.0 1446.0,2624.1 1450.2,2624.2 1450.2,2624.3 1454.5,2624.3 1454.5,2624.4 1458.8,2624.5 1458.8,2624.5 1463.0,2624.6 1463.0,2628.7 1467.2,2629.8 1467.2,2629.8 1471.5,2629.8 1471.5,2629.8 1475.8,2629.8 1475.8,2629.8 1480.0,2629.8 1480.0,2629.8 1484.2,2629.8 1484.2,2627.7 1488.5,2625.3 1488.5,2623.6 1492.8,2623.6 1492.8,2623.6 1497.0,2623.6 1497.0,2623.6 1501.2,2623.6 1501.2,2623.6 1505.5,2623.6 1505.5,2623.6 1509.8,2623.6 1509.8,2623.6 1514.0,2623.6 1514.0,2623.6 1518.2,2623.6 1518.2,2623.6 1522.5,2623.6 1522.5,2623.6 1526.8,2623.6 1526.8,2623.6 1531.0,2623.6 1531.0,2623.6 1535.2,2623.6 1535.2,2623.6 1539.5,2623.1 1539.5,2621.3 1543.8,2620.5 1543.8,2618.8 1548.0,2618.3 1548.0,2618.0 1552.2,2617.9 1552.2,2617.7 1556.5,2617.6 1556.5,2617.4 1560.8,2617.2 1560.8,2617.0 1565.0,2616.9 1565.0,2616.7 1569.2,2616.6 1569.2,2614.6 1573.5,2613.2 1573.5,2611.0 1577.8,2610.6 1577.8,2609.8 1582.0,2609.4 1582.0,2608.6 1586.2,2608.3 1586.2,2606.9 1590.5,2605.9 1590.5,2603.8 1594.8,2602.9 1594.8,2600.8 1599.0,2599.8 1599.0,2597.5 1603.2,2596.3 1603.2,2593.8 1607.5,2592.7 1607.5,2590.2 1611.8,2589.0 1611.8,2584.3 1616.0,2581.8 1616.0,2576.5 1620.2,2574.0 1620.2,2568.4 1624.5,2564.1 1624.5,2554.9 1628.8,2550.5 1628.8,2541.3 1633.0,2534.7 1633.0,2520.2 1637.2,2513.4 1637.2,2496.7 1641.5,2487.7 1641.5,2467.9 1645.8,2456.5 1645.8,2432.6 1650.0,2422.2 1650.0,2400.2 1654.2,2391.2 1654.2,2372.1 1658.5,2363.0 1658.5,2343.8 1662.8,2334.8 1662.8,2322.5 1667.0,2317.8 1667.0,2311.0 1671.2,2311.0 1671.2,2313.3 1675.5,2317.9 1675.5,2327.7 1679.8,2333.6 1679.8,2349.7 1684.0,2357.3 1684.0,2375.0 1688.2,2384.0 1688.2,2403.7 1692.5,2414.8 1692.5,2437.9 1696.8,2447.1 1696.8,2466.7 1701.0,2475.9 1701.0,2495.4 1705.2,2504.6 1705.2,2523.4 1709.5,2532.3 1709.5,2547.9 1713.8,2553.9 1713.8,2566.8 1718.0,2572.1 1718.0,2582.7 1722.2,2587.7 1722.2,2597.9 1726.5,2601.4 1726.5,2608.6 1730.8,2612.0 1730.8,2616.6 1735.0,2618.0 1735.0,2620.9 1737.5,2622.0 1738.0,2624.6 1749.3,2624.6 1750.7,2629.8 1784.8,2629.8 1786.2,2624.6 1792.3,2624.6 1793.7,2629.8 1802.3,2629.8 1803.7,2624.6 1809.3,2624.6 1810.7,2629.8 1827.3,2629.8 1828.7,2624.6 1834.3,2624.6 1835.7,2629.8 1844.3,2629.8 1845.7,2624.6 1913.0,2624.6 1914.4,2629.8 1923.3,2629.8 1924.7,2624.6 1946.3,2624.6 1947.7,2629.8 1957.0,2629.8 1958.4,2624.6 1983.3,2624.6 1984.7,2629.8 1995.3,2629.8 1996.7,2624.6 2058.8,2624.6 2060.2,2629.8 2076.3,2629.8 2077.7,2624.6 2085.3,2624.6 2086.7,2629.8 2090.3,2629.8 2091.7,2624.6 2097.3,2624.6 2098.7,2629.8 2106.3,2629.8 2107.7,2624.6 2130.8,2624.6 2132.2,2629.8 2140.7,2629.8 2142.1,2624.6 2155.3,2624.6 2156.7,2629.8 2164.3,2629.8 2165.7,2624.6 2192.3,2624.6 2193.7,2629.8 2201.1,2629.8 2202.5,2624.6 2208.3,2624.6 2209.7,2629.8 2302.6,2629.8" fill="none" stroke="#dff0ee" stroke-opacity="0.5" stroke-width="14" stroke-linejoin="round"/>
<polyline points="341.0,2624.6 415.3,2624.6 416.7,2629.8 425.9,2629.8 427.3,2624.6 432.9,2624.6 434.3,2629.8 450.3,2629.8 451.7,2624.6 466.3,2624.6 467.7,2629.8 476.8,2629.8 478.2,2624.6 494.3,2624.6 495.7,2629.8 520.8,2629.8 522.2,2624.6 545.3,2624.6 546.7,2629.8 555.9,2629.8 557.3,2624.6 566.3,2624.6 567.7,2629.8 580.3,2629.8 581.7,2624.6 770.3,2624.6 771.7,2629.8 805.3,2629.8 806.7,2624.6 1002.9,2624.6 1004.3,2629.8 1013.3,2629.8 1014.7,2624.6 1027.3,2624.6 1028.7,2629.8 1046.8,2629.8 1048.2,2624.6 1060.9,2624.6 1062.3,2629.8 1078.3,2629.8 1079.7,2624.6 1083.3,2624.6 1084.7,2629.8 1134.7,2629.8 1136.1,2624.6 1240.4,2624.6 1240.4,2625.3 1242.0,2625.1 1242.0,2621.3 1246.2,2619.5 1246.2,2618.1 1250.5,2618.0 1250.5,2617.8 1254.8,2617.7 1254.8,2617.5 1259.0,2617.4 1259.0,2617.1 1263.2,2617.0 1263.2,2616.8 1267.5,2616.7 1267.5,2616.1 1271.8,2614.7 1271.8,2611.9 1276.0,2611.1 1276.0,2610.3 1280.2,2609.9 1280.2,2609.0 1284.5,2608.6 1284.5,2607.8 1288.8,2607.1 1288.8,2605.4 1293.0,2604.6 1293.0,2603.0 1297.2,2602.2 1297.2,2600.4 1301.5,2599.1 1301.5,2596.2 1305.8,2594.9 1305.8,2592.0 1310.0,2590.6 1310.0,2585.2 1314.2,2582.4 1314.2,2576.6 1318.5,2573.8 1318.5,2567.3 1322.8,2562.9 1322.8,2553.7 1327.0,2549.4 1327.0,2540.0 1331.2,2534.6 1331.2,2523.0 1335.5,2517.6 1335.5,2507.9 1339.8,2503.8 1339.8,2495.3 1344.0,2491.3 1344.0,2487.8 1348.2,2486.6 1348.2,2485.5 1352.5,2485.5 1352.5,2485.5 1356.8,2486.9 1356.8,2490.1 1361.0,2492.5 1361.0,2500.6 1365.2,2504.4 1365.2,2512.4 1369.5,2516.7 1369.5,2526.0 1373.8,2530.4 1373.8,2539.7 1378.0,2544.0 1378.0,2553.2 1382.2,2557.6 1382.2,2566.8 1386.5,2570.5 1386.5,2577.3 1390.8,2580.4 1390.8,2587.2 1395.0,2590.3 1395.0,2595.8 1399.2,2597.7 1399.2,2601.8 1403.5,2603.8 1403.5,2607.9 1407.8,2609.9 1407.8,2612.6 1412.0,2613.5 1412.0,2615.4 1416.2,2616.3 1416.2,2618.2 1420.5,2618.4 1420.5,2618.7 1424.8,2618.9 1424.8,2619.9 1429.0,2620.8 1429.0,2622.7 1433.2,2623.6 1433.2,2623.7 1437.5,2623.7 1437.5,2623.8 1441.8,2623.9 1441.8,2624.0 1446.0,2624.0 1446.0,2624.1 1450.2,2624.2 1450.2,2624.3 1454.5,2624.3 1454.5,2624.4 1458.8,2624.5 1458.8,2624.5 1463.0,2624.6 1463.0,2628.7 1467.2,2629.8 1467.2,2629.8 1471.5,2629.8 1471.5,2629.8 1475.8,2629.8 1475.8,2629.8 1480.0,2629.8 1480.0,2629.8 1484.2,2629.8 1484.2,2627.7 1488.5,2625.3 1488.5,2623.6 1492.8,2623.6 1492.8,2623.6 1497.0,2623.6 1497.0,2623.6 1501.2,2623.6 1501.2,2623.6 1505.5,2623.6 1505.5,2623.6 1509.8,2623.6 1509.8,2623.6 1514.0,2623.6 1514.0,2623.6 1518.2,2623.6 1518.2,2623.6 1522.5,2623.6 1522.5,2623.6 1526.8,2623.6 1526.8,2623.6 1531.0,2623.6 1531.0,2623.6 1535.2,2623.6 1535.2,2623.6 1539.5,2623.1 1539.5,2621.3 1543.8,2620.5 1543.8,2618.8 1548.0,2618.3 1548.0,2618.0 1552.2,2617.9 1552.2,2617.7 1556.5,2617.6 1556.5,2617.4 1560.8,2617.2 1560.8,2617.0 1565.0,2616.9 1565.0,2616.7 1569.2,2616.6 1569.2,2614.6 1573.5,2613.2 1573.5,2611.0 1577.8,2610.6 1577.8,2609.8 1582.0,2609.4 1582.0,2608.6 1586.2,2608.3 1586.2,2606.9 1590.5,2605.9 1590.5,2603.8 1594.8,2602.9 1594.8,2600.8 1599.0,2599.8 1599.0,2597.5 1603.2,2596.3 1603.2,2593.8 1607.5,2592.7 1607.5,2590.2 1611.8,2589.0 1611.8,2584.3 1616.0,2581.8 1616.0,2576.5 1620.2,2574.0 1620.2,2568.4 1624.5,2564.1 1624.5,2554.9 1628.8,2550.5 1628.8,2541.3 1633.0,2534.7 1633.0,2520.2 1637.2,2513.4 1637.2,2496.7 1641.5,2487.7 1641.5,2467.9 1645.8,2456.5 1645.8,2432.6 1650.0,2422.2 1650.0,2400.2 1654.2,2391.2 1654.2,2372.1 1658.5,2363.0 1658.5,2343.8 1662.8,2334.8 1662.8,2322.5 1667.0,2317.8 1667.0,2311.0 1671.2,2311.0 1671.2,2313.3 1675.5,2317.9 1675.5,2327.7 1679.8,2333.6 1679.8,2349.7 1684.0,2357.3 1684.0,2375.0 1688.2,2384.0 1688.2,2403.7 1692.5,2414.8 1692.5,2437.9 1696.8,2447.1 1696.8,2466.7 1701.0,2475.9 1701.0,2495.4 1705.2,2504.6 1705.2,2523.4 1709.5,2532.3 1709.5,2547.9 1713.8,2553.9 1713.8,2566.8 1718.0,2572.1 1718.0,2582.7 1722.2,2587.7 1722.2,2597.9 1726.5,2601.4 1726.5,2608.6 1730.8,2612.0 1730.8,2616.6 1735.0,2618.0 1735.0,2620.9 1737.5,2622.0 1738.0,2624.6 1749.3,2624.6 1750.7,2629.8 1784.8,2629.8 1786.2,2624.6 1792.3,2624.6 1793.7,2629.8 1802.3,2629.8 1803.7,2624.6 1809.3,2624.6 1810.7,2629.8 1827.3,2629.8 1828.7,2624.6 1834.3,2624.6 1835.7,2629.8 1844.3,2629.8 1845.7,2624.6 1913.0,2624.6 1914.4,2629.8 1923.3,2629.8 1924.7,2624.6 1946.3,2624.6 1947.7,2629.8 1957.0,2629.8 1958.4,2624.6 1983.3,2624.6 1984.7,2629.8 1995.3,2629.8 1996.7,2624.6 2058.8,2624.6 2060.2,2629.8 2076.3,2629.8 2077.7,2624.6 2085.3,2624.6 2086.7,2629.8 2090.3,2629.8 2091.7,2624.6 2097.3,2624.6 2098.7,2629.8 2106.3,2629.8 2107.7,2624.6 2130.8,2624.6 2132.2,2629.8 2140.7,2629.8 2142.1,2624.6 2155.3,2624.6 2156.7,2629.8 2164.3,2629.8 2165.7,2624.6 2192.3,2624.6 2193.7,2629.8 2201.1,2629.8 2202.5,2624.6 2208.3,2624.6 2209.7,2629.8 2302.6,2629.8" fill="none" stroke="#dff0ee" stroke-width="11" stroke-linejoin="round"/></g>
<g clip-path="url(#bp)"><polyline points="341.0,2624.6 415.3,2624.6 416.7,2629.8 425.9,2629.8 427.3,2624.6 432.9,2624.6 434.3,2629.8 450.3,2629.8 451.7,2624.6 466.3,2624.6 467.7,2629.8 476.8,2629.8 478.2,2624.6 494.3,2624.6 495.7,2629.8 520.8,2629.8 522.2,2624.6 545.3,2624.6 546.7,2629.8 555.9,2629.8 557.3,2624.6 566.3,2624.6 567.7,2629.8 580.3,2629.8 581.7,2624.6 770.3,2624.6 771.7,2629.8 805.3,2629.8 806.7,2624.6 1002.9,2624.6 1004.3,2629.8 1013.3,2629.8 1014.7,2624.6 1027.3,2624.6 1028.7,2629.8 1046.8,2629.8 1048.2,2624.6 1060.9,2624.6 1062.3,2629.8 1078.3,2629.8 1079.7,2624.6 1083.3,2624.6 1084.7,2629.8 1134.7,2629.8 1136.1,2624.6 1240.4,2624.6 1240.4,2625.3 1242.0,2625.1 1242.0,2621.3 1246.2,2619.5 1246.2,2618.1 1250.5,2618.0 1250.5,2617.8 1254.8,2617.7 1254.8,2617.5 1259.0,2617.4 1259.0,2617.1 1263.2,2617.0 1263.2,2616.8 1267.5,2616.7 1267.5,2616.1 1271.8,2614.7 1271.8,2611.9 1276.0,2611.1 1276.0,2610.3 1280.2,2609.9 1280.2,2609.0 1284.5,2608.6 1284.5,2607.8 1288.8,2607.1 1288.8,2605.4 1293.0,2604.6 1293.0,2603.0 1297.2,2602.2 1297.2,2600.4 1301.5,2599.1 1301.5,2596.2 1305.8,2594.9 1305.8,2592.0 1310.0,2590.6 1310.0,2585.2 1314.2,2582.4 1314.2,2576.6 1318.5,2573.8 1318.5,2567.3 1322.8,2562.9 1322.8,2553.7 1327.0,2549.4 1327.0,2540.0 1331.2,2534.6 1331.2,2523.0 1335.5,2517.6 1335.5,2507.9 1339.8,2503.8 1339.8,2495.3 1344.0,2491.3 1344.0,2487.8 1348.2,2486.6 1348.2,2485.5 1352.5,2485.5 1352.5,2485.5 1356.8,2486.9 1356.8,2490.1 1361.0,2492.5 1361.0,2500.6 1365.2,2504.4 1365.2,2512.4 1369.5,2516.7 1369.5,2526.0 1373.8,2530.4 1373.8,2539.7 1378.0,2544.0 1378.0,2553.2 1382.2,2557.6 1382.2,2566.8 1386.5,2570.5 1386.5,2577.3 1390.8,2580.4 1390.8,2587.2 1395.0,2590.3 1395.0,2595.8 1399.2,2597.7 1399.2,2601.8 1403.5,2603.8 1403.5,2607.9 1407.8,2609.9 1407.8,2612.6 1412.0,2613.5 1412.0,2615.4 1416.2,2616.3 1416.2,2618.2 1420.5,2618.4 1420.5,2618.7 1424.8,2618.9 1424.8,2619.9 1429.0,2620.8 1429.0,2622.7 1433.2,2623.6 1433.2,2623.7 1437.5,2623.7 1437.5,2623.8 1441.8,2623.9 1441.8,2624.0 1446.0,2624.0 1446.0,2624.1 1450.2,2624.2 1450.2,2624.3 1454.5,2624.3 1454.5,2624.4 1458.8,2624.5 1458.8,2624.5 1463.0,2624.6 1463.0,2628.7 1467.2,2629.8 1467.2,2629.8 1471.5,2629.8 1471.5,2629.8 1475.8,2629.8 1475.8,2629.8 1480.0,2629.8 1480.0,2629.8 1484.2,2629.8 1484.2,2627.7 1488.5,2625.3 1488.5,2623.6 1492.8,2623.6 1492.8,2623.6 1497.0,2623.6 1497.0,2623.6 1501.2,2623.6 1501.2,2623.6 1505.5,2623.6 1505.5,2623.6 1509.8,2623.6 1509.8,2623.6 1514.0,2623.6 1514.0,2623.6 1518.2,2623.6 1518.2,2623.6 1522.5,2623.6 1522.5,2623.6 1526.8,2623.6 1526.8,2623.6 1531.0,2623.6 1531.0,2623.6 1535.2,2623.6 1535.2,2623.6 1539.5,2623.1 1539.5,2621.3 1543.8,2620.5 1543.8,2618.8 1548.0,2618.3 1548.0,2618.0 1552.2,2617.9 1552.2,2617.7 1556.5,2617.6 1556.5,2617.4 1560.8,2617.2 1560.8,2617.0 1565.0,2616.9 1565.0,2616.7 1569.2,2616.6 1569.2,2614.6 1573.5,2613.2 1573.5,2611.0 1577.8,2610.6 1577.8,2609.8 1582.0,2609.4 1582.0,2608.6 1586.2,2608.3 1586.2,2606.9 1590.5,2605.9 1590.5,2603.8 1594.8,2602.9 1594.8,2600.8 1599.0,2599.8 1599.0,2597.5 1603.2,2596.3 1603.2,2593.8 1607.5,2592.7 1607.5,2590.2 1611.8,2589.0 1611.8,2584.3 1616.0,2581.8 1616.0,2576.5 1620.2,2574.0 1620.2,2568.4 1624.5,2564.1 1624.5,2554.9 1628.8,2550.5 1628.8,2541.3 1633.0,2534.7 1633.0,2520.2 1637.2,2513.4 1637.2,2496.7 1641.5,2487.7 1641.5,2467.9 1645.8,2456.5 1645.8,2432.6 1650.0,2422.2 1650.0,2400.2 1654.2,2391.2 1654.2,2372.1 1658.5,2363.0 1658.5,2343.8 1662.8,2334.8 1662.8,2322.5 1667.0,2317.8 1667.0,2311.0 1671.2,2311.0 1671.2,2313.3 1675.5,2317.9 1675.5,2327.7 1679.8,2333.6 1679.8,2349.7 1684.0,2357.3 1684.0,2375.0 1688.2,2384.0 1688.2,2403.7 1692.5,2414.8 1692.5,2437.9 1696.8,2447.1 1696.8,2466.7 1701.0,2475.9 1701.0,2495.4 1705.2,2504.6 1705.2,2523.4 1709.5,2532.3 1709.5,2547.9 1713.8,2553.9 1713.8,2566.8 1718.0,2572.1 1718.0,2582.7 1722.2,2587.7 1722.2,2597.9 1726.5,2601.4 1726.5,2608.6 1730.8,2612.0 1730.8,2616.6 1735.0,2618.0 1735.0,2620.9 1737.5,2622.0 1738.0,2624.6 1749.3,2624.6 1750.7,2629.8 1784.8,2629.8 1786.2,2624.6 1792.3,2624.6 1793.7,2629.8 1802.3,2629.8 1803.7,2624.6 1809.3,2624.6 1810.7,2629.8 1827.3,2629.8 1828.7,2624.6 1834.3,2624.6 1835.7,2629.8 1844.3,2629.8 1845.7,2624.6 1913.0,2624.6 1914.4,2629.8 1923.3,2629.8 1924.7,2624.6 1946.3,2624.6 1947.7,2629.8 1957.0,2629.8 1958.4,2624.6 1983.3,2624.6 1984.7,2629.8 1995.3,2629.8 1996.7,2624.6 2058.8,2624.6 2060.2,2629.8 2076.3,2629.8 2077.7,2624.6 2085.3,2624.6 2086.7,2629.8 2090.3,2629.8 2091.7,2624.6 2097.3,2624.6 2098.7,2629.8 2106.3,2629.8 2107.7,2624.6 2130.8,2624.6 2132.2,2629.8 2140.7,2629.8 2142.1,2624.6 2155.3,2624.6 2156.7,2629.8 2164.3,2629.8 2165.7,2624.6 2192.3,2624.6 2193.7,2629.8 2201.1,2629.8 2202.5,2624.6 2208.3,2624.6 2209.7,2629.8 2302.6,2629.8" fill="none" stroke="#fde3e1" stroke-opacity="0.6" stroke-width="13.5" stroke-linejoin="round"/>
<polyline points="341.0,2624.6 415.3,2624.6 416.7,2629.8 425.9,2629.8 427.3,2624.6 432.9,2624.6 434.3,2629.8 450.3,2629.8 451.7,2624.6 466.3,2624.6 467.7,2629.8 476.8,2629.8 478.2,2624.6 494.3,2624.6 495.7,2629.8 520.8,2629.8 522.2,2624.6 545.3,2624.6 546.7,2629.8 555.9,2629.8 557.3,2624.6 566.3,2624.6 567.7,2629.8 580.3,2629.8 581.7,2624.6 770.3,2624.6 771.7,2629.8 805.3,2629.8 806.7,2624.6 1002.9,2624.6 1004.3,2629.8 1013.3,2629.8 1014.7,2624.6 1027.3,2624.6 1028.7,2629.8 1046.8,2629.8 1048.2,2624.6 1060.9,2624.6 1062.3,2629.8 1078.3,2629.8 1079.7,2624.6 1083.3,2624.6 1084.7,2629.8 1134.7,2629.8 1136.1,2624.6 1240.4,2624.6 1240.4,2625.3 1242.0,2625.1 1242.0,2621.3 1246.2,2619.5 1246.2,2618.1 1250.5,2618.0 1250.5,2617.8 1254.8,2617.7 1254.8,2617.5 1259.0,2617.4 1259.0,2617.1 1263.2,2617.0 1263.2,2616.8 1267.5,2616.7 1267.5,2616.1 1271.8,2614.7 1271.8,2611.9 1276.0,2611.1 1276.0,2610.3 1280.2,2609.9 1280.2,2609.0 1284.5,2608.6 1284.5,2607.8 1288.8,2607.1 1288.8,2605.4 1293.0,2604.6 1293.0,2603.0 1297.2,2602.2 1297.2,2600.4 1301.5,2599.1 1301.5,2596.2 1305.8,2594.9 1305.8,2592.0 1310.0,2590.6 1310.0,2585.2 1314.2,2582.4 1314.2,2576.6 1318.5,2573.8 1318.5,2567.3 1322.8,2562.9 1322.8,2553.7 1327.0,2549.4 1327.0,2540.0 1331.2,2534.6 1331.2,2523.0 1335.5,2517.6 1335.5,2507.9 1339.8,2503.8 1339.8,2495.3 1344.0,2491.3 1344.0,2487.8 1348.2,2486.6 1348.2,2485.5 1352.5,2485.5 1352.5,2485.5 1356.8,2486.9 1356.8,2490.1 1361.0,2492.5 1361.0,2500.6 1365.2,2504.4 1365.2,2512.4 1369.5,2516.7 1369.5,2526.0 1373.8,2530.4 1373.8,2539.7 1378.0,2544.0 1378.0,2553.2 1382.2,2557.6 1382.2,2566.8 1386.5,2570.5 1386.5,2577.3 1390.8,2580.4 1390.8,2587.2 1395.0,2590.3 1395.0,2595.8 1399.2,2597.7 1399.2,2601.8 1403.5,2603.8 1403.5,2607.9 1407.8,2609.9 1407.8,2612.6 1412.0,2613.5 1412.0,2615.4 1416.2,2616.3 1416.2,2618.2 1420.5,2618.4 1420.5,2618.7 1424.8,2618.9 1424.8,2619.9 1429.0,2620.8 1429.0,2622.7 1433.2,2623.6 1433.2,2623.7 1437.5,2623.7 1437.5,2623.8 1441.8,2623.9 1441.8,2624.0 1446.0,2624.0 1446.0,2624.1 1450.2,2624.2 1450.2,2624.3 1454.5,2624.3 1454.5,2624.4 1458.8,2624.5 1458.8,2624.5 1463.0,2624.6 1463.0,2628.7 1467.2,2629.8 1467.2,2629.8 1471.5,2629.8 1471.5,2629.8 1475.8,2629.8 1475.8,2629.8 1480.0,2629.8 1480.0,2629.8 1484.2,2629.8 1484.2,2627.7 1488.5,2625.3 1488.5,2623.6 1492.8,2623.6 1492.8,2623.6 1497.0,2623.6 1497.0,2623.6 1501.2,2623.6 1501.2,2623.6 1505.5,2623.6 1505.5,2623.6 1509.8,2623.6 1509.8,2623.6 1514.0,2623.6 1514.0,2623.6 1518.2,2623.6 1518.2,2623.6 1522.5,2623.6 1522.5,2623.6 1526.8,2623.6 1526.8,2623.6 1531.0,2623.6 1531.0,2623.6 1535.2,2623.6 1535.2,2623.6 1539.5,2623.1 1539.5,2621.3 1543.8,2620.5 1543.8,2618.8 1548.0,2618.3 1548.0,2618.0 1552.2,2617.9 1552.2,2617.7 1556.5,2617.6 1556.5,2617.4 1560.8,2617.2 1560.8,2617.0 1565.0,2616.9 1565.0,2616.7 1569.2,2616.6 1569.2,2614.6 1573.5,2613.2 1573.5,2611.0 1577.8,2610.6 1577.8,2609.8 1582.0,2609.4 1582.0,2608.6 1586.2,2608.3 1586.2,2606.9 1590.5,2605.9 1590.5,2603.8 1594.8,2602.9 1594.8,2600.8 1599.0,2599.8 1599.0,2597.5 1603.2,2596.3 1603.2,2593.8 1607.5,2592.7 1607.5,2590.2 1611.8,2589.0 1611.8,2584.3 1616.0,2581.8 1616.0,2576.5 1620.2,2574.0 1620.2,2568.4 1624.5,2564.1 1624.5,2554.9 1628.8,2550.5 1628.8,2541.3 1633.0,2534.7 1633.0,2520.2 1637.2,2513.4 1637.2,2496.7 1641.5,2487.7 1641.5,2467.9 1645.8,2456.5 1645.8,2432.6 1650.0,2422.2 1650.0,2400.2 1654.2,2391.2 1654.2,2372.1 1658.5,2363.0 1658.5,2343.8 1662.8,2334.8 1662.8,2322.5 1667.0,2317.8 1667.0,2311.0 1671.2,2311.0 1671.2,2313.3 1675.5,2317.9 1675.5,2327.7 1679.8,2333.6 1679.8,2349.7 1684.0,2357.3 1684.0,2375.0 1688.2,2384.0 1688.2,2403.7 1692.5,2414.8 1692.5,2437.9 1696.8,2447.1 1696.8,2466.7 1701.0,2475.9 1701.0,2495.4 1705.2,2504.6 1705.2,2523.4 1709.5,2532.3 1709.5,2547.9 1713.8,2553.9 1713.8,2566.8 1718.0,2572.1 1718.0,2582.7 1722.2,2587.7 1722.2,2597.9 1726.5,2601.4 1726.5,2608.6 1730.8,2612.0 1730.8,2616.6 1735.0,2618.0 1735.0,2620.9 1737.5,2622.0 1738.0,2624.6 1749.3,2624.6 1750.7,2629.8 1784.8,2629.8 1786.2,2624.6 1792.3,2624.6 1793.7,2629.8 1802.3,2629.8 1803.7,2624.6 1809.3,2624.6 1810.7,2629.8 1827.3,2629.8 1828.7,2624.6 1834.3,2624.6 1835.7,2629.8 1844.3,2629.8 1845.7,2624.6 1913.0,2624.6 1914.4,2629.8 1923.3,2629.8 1924.7,2624.6 1946.3,2624.6 1947.7,2629.8 1957.0,2629.8 1958.4,2624.6 1983.3,2624.6 1984.7,2629.8 1995.3,2629.8 1996.7,2624.6 2058.8,2624.6 2060.2,2629.8 2076.3,2629.8 2077.7,2624.6 2085.3,2624.6 2086.7,2629.8 2090.3,2629.8 2091.7,2624.6 2097.3,2624.6 2098.7,2629.8 2106.3,2629.8 2107.7,2624.6 2130.8,2624.6 2132.2,2629.8 2140.7,2629.8 2142.1,2624.6 2155.3,2624.6 2156.7,2629.8 2164.3,2629.8 2165.7,2624.6 2192.3,2624.6 2193.7,2629.8 2201.1,2629.8 2202.5,2624.6 2208.3,2624.6 2209.7,2629.8 2302.6,2629.8" fill="none" stroke="#fdeceb" stroke-width="10.5" stroke-linejoin="round"/></g>
<line x1="338.6" y1="1829.7" x2="2302.7" y2="1829.7" stroke="#1a1311" stroke-width="6"/>
<line x1="341" y1="2636" x2="341" y2="1829.7" stroke="#1a1311" stroke-width="4.8"/>
<line x1="2300.3" y1="1829.7" x2="2300.3" y2="2639.3" stroke="#2a2220" stroke-width="4.8"/>
<line x1="343" y1="2632.1" x2="2298" y2="2632.1" stroke="#d3ebe7" stroke-width="1.8"/>
<line x1="338.6" y1="2636" x2="2302.7" y2="2636" stroke="#1a1311" stroke-width="6.2"/>
<line x1="341" y1="1884.8" x2="348.2" y2="1884.8" stroke="#1a1311" stroke-width="7.4" stroke-linecap="round"/>
<line x1="341" y1="1934.4" x2="348.2" y2="1934.4" stroke="#1a1311" stroke-width="7.4" stroke-linecap="round"/>
<line x1="341" y1="1984.1" x2="348.2" y2="1984.1" stroke="#1a1311" stroke-width="7.4" stroke-linecap="round"/>
<line x1="341" y1="2033.7" x2="348.2" y2="2033.7" stroke="#1a1311" stroke-width="7.4" stroke-linecap="round"/>
<line x1="341" y1="2083.3" x2="348.2" y2="2083.3" stroke="#1a1311" stroke-width="7.4" stroke-linecap="round"/>
<line x1="341" y1="2132.9" x2="348.2" y2="2132.9" stroke="#1a1311" stroke-width="7.4" stroke-linecap="round"/>
<line x1="341" y1="2182.6" x2="348.2" y2="2182.6" stroke="#1a1311" stroke-width="7.4" stroke-linecap="round"/>
<line x1="341" y1="2232.2" x2="348.2" y2="2232.2" stroke="#1a1311" stroke-width="7.4" stroke-linecap="round"/>
<line x1="341" y1="2281.8" x2="348.2" y2="2281.8" stroke="#1a1311" stroke-width="7.4" stroke-linecap="round"/>
<line x1="341" y1="2331.5" x2="348.2" y2="2331.5" stroke="#1a1311" stroke-width="7.4" stroke-linecap="round"/>
<line x1="341" y1="2381.1" x2="348.2" y2="2381.1" stroke="#1a1311" stroke-width="7.4" stroke-linecap="round"/>
<line x1="341" y1="2430.7" x2="348.2" y2="2430.7" stroke="#1a1311" stroke-width="7.4" stroke-linecap="round"/>
<line x1="341" y1="2480.4" x2="348.2" y2="2480.4" stroke="#1a1311" stroke-width="7.4" stroke-linecap="round"/>
<line x1="341" y1="2530.0" x2="348.2" y2="2530.0" stroke="#1a1311" stroke-width="7.4" stroke-linecap="round"/>
<line x1="341" y1="2579.6" x2="348.2" y2="2579.6" stroke="#1a1311" stroke-width="7.4" stroke-linecap="round"/>
<line x1="762" y1="1818.2" x2="762" y2="1840.2" stroke="#1a1311" stroke-width="6.2" stroke-linecap="round"/>
<line x1="1620.6" y1="1818.2" x2="1620.6" y2="1840.2" stroke="#1a1311" stroke-width="6.2" stroke-linecap="round"/>
<polyline points="341.0,2624.6 415.3,2624.6 416.7,2629.8 425.9,2629.8 427.3,2624.6 432.9,2624.6 434.3,2629.8 450.3,2629.8 451.7,2624.6 466.3,2624.6 467.7,2629.8 476.8,2629.8 478.2,2624.6 494.3,2624.6 495.7,2629.8 520.8,2629.8 522.2,2624.6 545.3,2624.6 546.7,2629.8 555.9,2629.8 557.3,2624.6 566.3,2624.6 567.7,2629.8 580.3,2629.8 581.7,2624.6 770.3,2624.6 771.7,2629.8 805.3,2629.8 806.7,2624.6 1002.9,2624.6 1004.3,2629.8 1013.3,2629.8 1014.7,2624.6 1027.3,2624.6 1028.7,2629.8 1046.8,2629.8 1048.2,2624.6 1060.9,2624.6 1062.3,2629.8 1078.3,2629.8 1079.7,2624.6 1083.3,2624.6 1084.7,2629.8 1134.7,2629.8 1136.1,2624.6 1240.4,2624.6 1240.4,2625.3 1242.0,2625.1 1242.0,2621.3 1246.2,2619.5 1246.2,2618.1 1250.5,2618.0 1250.5,2617.8 1254.8,2617.7 1254.8,2617.5 1259.0,2617.4 1259.0,2617.1 1263.2,2617.0 1263.2,2616.8 1267.5,2616.7 1267.5,2616.1 1271.8,2614.7 1271.8,2611.9 1276.0,2611.1 1276.0,2610.3 1280.2,2609.9 1280.2,2609.0 1284.5,2608.6 1284.5,2607.8 1288.8,2607.1 1288.8,2605.4 1293.0,2604.6 1293.0,2603.0 1297.2,2602.2 1297.2,2600.4 1301.5,2599.1 1301.5,2596.2 1305.8,2594.9 1305.8,2592.0 1310.0,2590.6 1310.0,2585.2 1314.2,2582.4 1314.2,2576.6 1318.5,2573.8 1318.5,2567.3 1322.8,2562.9 1322.8,2553.7 1327.0,2549.4 1327.0,2540.0 1331.2,2534.6 1331.2,2523.0 1335.5,2517.6 1335.5,2507.9 1339.8,2503.8 1339.8,2495.3 1344.0,2491.3 1344.0,2487.8 1348.2,2486.6 1348.2,2485.5 1352.5,2485.5 1352.5,2485.5 1356.8,2486.9 1356.8,2490.1 1361.0,2492.5 1361.0,2500.6 1365.2,2504.4 1365.2,2512.4 1369.5,2516.7 1369.5,2526.0 1373.8,2530.4 1373.8,2539.7 1378.0,2544.0 1378.0,2553.2 1382.2,2557.6 1382.2,2566.8 1386.5,2570.5 1386.5,2577.3 1390.8,2580.4 1390.8,2587.2 1395.0,2590.3 1395.0,2595.8 1399.2,2597.7 1399.2,2601.8 1403.5,2603.8 1403.5,2607.9 1407.8,2609.9 1407.8,2612.6 1412.0,2613.5 1412.0,2615.4 1416.2,2616.3 1416.2,2618.2 1420.5,2618.4 1420.5,2618.7 1424.8,2618.9 1424.8,2619.9 1429.0,2620.8 1429.0,2622.7 1433.2,2623.6 1433.2,2623.7 1437.5,2623.7 1437.5,2623.8 1441.8,2623.9 1441.8,2624.0 1446.0,2624.0 1446.0,2624.1 1450.2,2624.2 1450.2,2624.3 1454.5,2624.3 1454.5,2624.4 1458.8,2624.5 1458.8,2624.5 1463.0,2624.6 1463.0,2628.7 1467.2,2629.8 1467.2,2629.8 1471.5,2629.8 1471.5,2629.8 1475.8,2629.8 1475.8,2629.8 1480.0,2629.8 1480.0,2629.8 1484.2,2629.8 1484.2,2627.7 1488.5,2625.3 1488.5,2623.6 1492.8,2623.6 1492.8,2623.6 1497.0,2623.6 1497.0,2623.6 1501.2,2623.6 1501.2,2623.6 1505.5,2623.6 1505.5,2623.6 1509.8,2623.6 1509.8,2623.6 1514.0,2623.6 1514.0,2623.6 1518.2,2623.6 1518.2,2623.6 1522.5,2623.6 1522.5,2623.6 1526.8,2623.6 1526.8,2623.6 1531.0,2623.6 1531.0,2623.6 1535.2,2623.6 1535.2,2623.6 1539.5,2623.1 1539.5,2621.3 1543.8,2620.5 1543.8,2618.8 1548.0,2618.3 1548.0,2618.0 1552.2,2617.9 1552.2,2617.7 1556.5,2617.6 1556.5,2617.4 1560.8,2617.2 1560.8,2617.0 1565.0,2616.9 1565.0,2616.7 1569.2,2616.6 1569.2,2614.6 1573.5,2613.2 1573.5,2611.0 1577.8,2610.6 1577.8,2609.8 1582.0,2609.4 1582.0,2608.6 1586.2,2608.3 1586.2,2606.9 1590.5,2605.9 1590.5,2603.8 1594.8,2602.9 1594.8,2600.8 1599.0,2599.8 1599.0,2597.5 1603.2,2596.3 1603.2,2593.8 1607.5,2592.7 1607.5,2590.2 1611.8,2589.0 1611.8,2584.3 1616.0,2581.8 1616.0,2576.5 1620.2,2574.0 1620.2,2568.4 1624.5,2564.1 1624.5,2554.9 1628.8,2550.5 1628.8,2541.3 1633.0,2534.7 1633.0,2520.2 1637.2,2513.4 1637.2,2496.7 1641.5,2487.7 1641.5,2467.9 1645.8,2456.5 1645.8,2432.6 1650.0,2422.2 1650.0,2400.2 1654.2,2391.2 1654.2,2372.1 1658.5,2363.0 1658.5,2343.8 1662.8,2334.8 1662.8,2322.5 1667.0,2317.8 1667.0,2311.0 1671.2,2311.0 1671.2,2313.3 1675.5,2317.9 1675.5,2327.7 1679.8,2333.6 1679.8,2349.7 1684.0,2357.3 1684.0,2375.0 1688.2,2384.0 1688.2,2403.7 1692.5,2414.8 1692.5,2437.9 1696.8,2447.1 1696.8,2466.7 1701.0,2475.9 1701.0,2495.4 1705.2,2504.6 1705.2,2523.4 1709.5,2532.3 1709.5,2547.9 1713.8,2553.9 1713.8,2566.8 1718.0,2572.1 1718.0,2582.7 1722.2,2587.7 1722.2,2597.9 1726.5,2601.4 1726.5,2608.6 1730.8,2612.0 1730.8,2616.6 1735.0,2618.0 1735.0,2620.9 1737.5,2622.0 1738.0,2624.6 1749.3,2624.6 1750.7,2629.8 1784.8,2629.8 1786.2,2624.6 1792.3,2624.6 1793.7,2629.8 1802.3,2629.8 1803.7,2624.6 1809.3,2624.6 1810.7,2629.8 1827.3,2629.8 1828.7,2624.6 1834.3,2624.6 1835.7,2629.8 1844.3,2629.8 1845.7,2624.6 1913.0,2624.6 1914.4,2629.8 1923.3,2629.8 1924.7,2624.6 1946.3,2624.6 1947.7,2629.8 1957.0,2629.8 1958.4,2624.6 1983.3,2624.6 1984.7,2629.8 1995.3,2629.8 1996.7,2624.6 2058.8,2624.6 2060.2,2629.8 2076.3,2629.8 2077.7,2624.6 2085.3,2624.6 2086.7,2629.8 2090.3,2629.8 2091.7,2624.6 2097.3,2624.6 2098.7,2629.8 2106.3,2629.8 2107.7,2624.6 2130.8,2624.6 2132.2,2629.8 2140.7,2629.8 2142.1,2624.6 2155.3,2624.6 2156.7,2629.8 2164.3,2629.8 2165.7,2624.6 2192.3,2624.6 2193.7,2629.8 2201.1,2629.8 2202.5,2624.6 2208.3,2624.6 2209.7,2629.8 2302.6,2629.8" fill="none" stroke="#e03a33" stroke-width="5.4" stroke-linejoin="round"/>
<polyline clip-path="url(#bg)" points="341.0,2624.6 415.3,2624.6 416.7,2629.8 425.9,2629.8 427.3,2624.6 432.9,2624.6 434.3,2629.8 450.3,2629.8 451.7,2624.6 466.3,2624.6 467.7,2629.8 476.8,2629.8 478.2,2624.6 494.3,2624.6 495.7,2629.8 520.8,2629.8 522.2,2624.6 545.3,2624.6 546.7,2629.8 555.9,2629.8 557.3,2624.6 566.3,2624.6 567.7,2629.8 580.3,2629.8 581.7,2624.6 770.3,2624.6 771.7,2629.8 805.3,2629.8 806.7,2624.6 1002.9,2624.6 1004.3,2629.8 1013.3,2629.8 1014.7,2624.6 1027.3,2624.6 1028.7,2629.8 1046.8,2629.8 1048.2,2624.6 1060.9,2624.6 1062.3,2629.8 1078.3,2629.8 1079.7,2624.6 1083.3,2624.6 1084.7,2629.8 1134.7,2629.8 1136.1,2624.6 1240.4,2624.6 1240.4,2625.3 1242.0,2625.1 1242.0,2621.3 1246.2,2619.5 1246.2,2618.1 1250.5,2618.0 1250.5,2617.8 1254.8,2617.7 1254.8,2617.5 1259.0,2617.4 1259.0,2617.1 1263.2,2617.0 1263.2,2616.8 1267.5,2616.7 1267.5,2616.1 1271.8,2614.7 1271.8,2611.9 1276.0,2611.1 1276.0,2610.3 1280.2,2609.9 1280.2,2609.0 1284.5,2608.6 1284.5,2607.8 1288.8,2607.1 1288.8,2605.4 1293.0,2604.6 1293.0,2603.0 1297.2,2602.2 1297.2,2600.4 1301.5,2599.1 1301.5,2596.2 1305.8,2594.9 1305.8,2592.0 1310.0,2590.6 1310.0,2585.2 1314.2,2582.4 1314.2,2576.6 1318.5,2573.8 1318.5,2567.3 1322.8,2562.9 1322.8,2553.7 1327.0,2549.4 1327.0,2540.0 1331.2,2534.6 1331.2,2523.0 1335.5,2517.6 1335.5,2507.9 1339.8,2503.8 1339.8,2495.3 1344.0,2491.3 1344.0,2487.8 1348.2,2486.6 1348.2,2485.5 1352.5,2485.5 1352.5,2485.5 1356.8,2486.9 1356.8,2490.1 1361.0,2492.5 1361.0,2500.6 1365.2,2504.4 1365.2,2512.4 1369.5,2516.7 1369.5,2526.0 1373.8,2530.4 1373.8,2539.7 1378.0,2544.0 1378.0,2553.2 1382.2,2557.6 1382.2,2566.8 1386.5,2570.5 1386.5,2577.3 1390.8,2580.4 1390.8,2587.2 1395.0,2590.3 1395.0,2595.8 1399.2,2597.7 1399.2,2601.8 1403.5,2603.8 1403.5,2607.9 1407.8,2609.9 1407.8,2612.6 1412.0,2613.5 1412.0,2615.4 1416.2,2616.3 1416.2,2618.2 1420.5,2618.4 1420.5,2618.7 1424.8,2618.9 1424.8,2619.9 1429.0,2620.8 1429.0,2622.7 1433.2,2623.6 1433.2,2623.7 1437.5,2623.7 1437.5,2623.8 1441.8,2623.9 1441.8,2624.0 1446.0,2624.0 1446.0,2624.1 1450.2,2624.2 1450.2,2624.3 1454.5,2624.3 1454.5,2624.4 1458.8,2624.5 1458.8,2624.5 1463.0,2624.6 1463.0,2628.7 1467.2,2629.8 1467.2,2629.8 1471.5,2629.8 1471.5,2629.8 1475.8,2629.8 1475.8,2629.8 1480.0,2629.8 1480.0,2629.8 1484.2,2629.8 1484.2,2627.7 1488.5,2625.3 1488.5,2623.6 1492.8,2623.6 1492.8,2623.6 1497.0,2623.6 1497.0,2623.6 1501.2,2623.6 1501.2,2623.6 1505.5,2623.6 1505.5,2623.6 1509.8,2623.6 1509.8,2623.6 1514.0,2623.6 1514.0,2623.6 1518.2,2623.6 1518.2,2623.6 1522.5,2623.6 1522.5,2623.6 1526.8,2623.6 1526.8,2623.6 1531.0,2623.6 1531.0,2623.6 1535.2,2623.6 1535.2,2623.6 1539.5,2623.1 1539.5,2621.3 1543.8,2620.5 1543.8,2618.8 1548.0,2618.3 1548.0,2618.0 1552.2,2617.9 1552.2,2617.7 1556.5,2617.6 1556.5,2617.4 1560.8,2617.2 1560.8,2617.0 1565.0,2616.9 1565.0,2616.7 1569.2,2616.6 1569.2,2614.6 1573.5,2613.2 1573.5,2611.0 1577.8,2610.6 1577.8,2609.8 1582.0,2609.4 1582.0,2608.6 1586.2,2608.3 1586.2,2606.9 1590.5,2605.9 1590.5,2603.8 1594.8,2602.9 1594.8,2600.8 1599.0,2599.8 1599.0,2597.5 1603.2,2596.3 1603.2,2593.8 1607.5,2592.7 1607.5,2590.2 1611.8,2589.0 1611.8,2584.3 1616.0,2581.8 1616.0,2576.5 1620.2,2574.0 1620.2,2568.4 1624.5,2564.1 1624.5,2554.9 1628.8,2550.5 1628.8,2541.3 1633.0,2534.7 1633.0,2520.2 1637.2,2513.4 1637.2,2496.7 1641.5,2487.7 1641.5,2467.9 1645.8,2456.5 1645.8,2432.6 1650.0,2422.2 1650.0,2400.2 1654.2,2391.2 1654.2,2372.1 1658.5,2363.0 1658.5,2343.8 1662.8,2334.8 1662.8,2322.5 1667.0,2317.8 1667.0,2311.0 1671.2,2311.0 1671.2,2313.3 1675.5,2317.9 1675.5,2327.7 1679.8,2333.6 1679.8,2349.7 1684.0,2357.3 1684.0,2375.0 1688.2,2384.0 1688.2,2403.7 1692.5,2414.8 1692.5,2437.9 1696.8,2447.1 1696.8,2466.7 1701.0,2475.9 1701.0,2495.4 1705.2,2504.6 1705.2,2523.4 1709.5,2532.3 1709.5,2547.9 1713.8,2553.9 1713.8,2566.8 1718.0,2572.1 1718.0,2582.7 1722.2,2587.7 1722.2,2597.9 1726.5,2601.4 1726.5,2608.6 1730.8,2612.0 1730.8,2616.6 1735.0,2618.0 1735.0,2620.9 1737.5,2622.0 1738.0,2624.6 1749.3,2624.6 1750.7,2629.8 1784.8,2629.8 1786.2,2624.6 1792.3,2624.6 1793.7,2629.8 1802.3,2629.8 1803.7,2624.6 1809.3,2624.6 1810.7,2629.8 1827.3,2629.8 1828.7,2624.6 1834.3,2624.6 1835.7,2629.8 1844.3,2629.8 1845.7,2624.6 1913.0,2624.6 1914.4,2629.8 1923.3,2629.8 1924.7,2624.6 1946.3,2624.6 1947.7,2629.8 1957.0,2629.8 1958.4,2624.6 1983.3,2624.6 1984.7,2629.8 1995.3,2629.8 1996.7,2624.6 2058.8,2624.6 2060.2,2629.8 2076.3,2629.8 2077.7,2624.6 2085.3,2624.6 2086.7,2629.8 2090.3,2629.8 2091.7,2624.6 2097.3,2624.6 2098.7,2629.8 2106.3,2629.8 2107.7,2624.6 2130.8,2624.6 2132.2,2629.8 2140.7,2629.8 2142.1,2624.6 2155.3,2624.6 2156.7,2629.8 2164.3,2629.8 2165.7,2624.6 2192.3,2624.6 2193.7,2629.8 2201.1,2629.8 2202.5,2624.6 2208.3,2624.6 2209.7,2629.8 2302.6,2629.8" fill="none" stroke="#cf3a32" stroke-width="5.4" stroke-linejoin="round"/>
<text class="num" x="321.6" y="1852.3" text-anchor="end">8000</text>
<text class="num" x="321.6" y="1953.5" text-anchor="end">7000</text>
<text class="num" x="321.6" y="2054.7" text-anchor="end">6000</text>
<text class="num" x="321.6" y="2155.9" text-anchor="end">5000</text>
<text class="num" x="321.6" y="2257.1" text-anchor="end">4000</text>
<text class="num" x="321.6" y="2358.3" text-anchor="end">3000</text>
<text class="num" x="321.6" y="2459.5" text-anchor="end">2000</text>
<text class="num" x="321.6" y="2560.7" text-anchor="end">1000</text>
<text class="num" x="321.6" y="2661.9" text-anchor="end">0</text>
<text class="num" x="762" y="1804.4" text-anchor="middle">150</text>
<text class="num" x="1620" y="1804.4" text-anchor="middle">160</text>
<text class="num" x="2196.6" y="1804.4" text-anchor="middle">bp</text>
<rect x="1019.2" y="1613.2" width="946.4" height="99.3" fill="#d7cec9" stroke="#1a1311" stroke-width="5.4"/>
<text class="bold" x="1458.3" y="1685.8" textLength="68" lengthAdjust="spacingAndGlyphs">MW</text>
<path d="M1307.5 1135.5 V1060.3 H1404.5" fill="none" stroke="#e03a33" stroke-width="5.6" stroke-linejoin="round"/>
<rect x="1310.05" y="1064.85" width="95.90" height="126.80" fill="#fff" stroke="#c8413d" stroke-width="3.9"/>
<line x1="1308.1" y1="1190.8999999999999" x2="1407.9" y2="1190.8999999999999" stroke="#c8413d" stroke-width="5.4"/>
<line x1="1354.5" y1="1036.5" x2="1354.5" y2="1059.5" stroke="#e03a33" stroke-width="5.8"/>
<text class="bold" x="1341.5" y="1153.3" textLength="33" lengthAdjust="spacingAndGlyphs">W</text>
<rect x="1310.05" y="1207.45" width="95.90" height="127.80" fill="#fff" stroke="#c8413d" stroke-width="3.9"/>
<line x1="1308.1" y1="1334.5" x2="1407.9" y2="1334.5" stroke="#c8413d" stroke-width="5.4"/>
<line x1="1308.1" y1="1207.3999999999999" x2="1407.9" y2="1207.3999999999999" stroke="#c8413d" stroke-width="5.2"/>
<line x1="1354.5" y1="1193" x2="1354.5" y2="1206.8" stroke="#e03a33" stroke-width="5.8"/>
<text class="bold" x="1341.5" y="1295.5" textLength="33" lengthAdjust="spacingAndGlyphs">W</text>
<path d="M1299.5 2737.5 V2662.3 H1396.5" fill="none" stroke="#e03a33" stroke-width="5.6" stroke-linejoin="round"/>
<rect x="1302.05" y="2666.85" width="95.90" height="127.50" fill="#fff" stroke="#c8413d" stroke-width="3.9"/>
<line x1="1300.1" y1="2793.6000000000004" x2="1399.9" y2="2793.6000000000004" stroke="#c8413d" stroke-width="5.4"/>
<line x1="1346.3" y1="2639" x2="1346.3" y2="2661.5" stroke="#e03a33" stroke-width="5.8"/>
<text class="bold" x="1332.6" y="2756.7" textLength="33" lengthAdjust="spacingAndGlyphs">W</text>
<line x1="1625.6999999999998" y1="2662.3" x2="1724.5" y2="2662.3" stroke="#e03a33" stroke-width="5.6"/>
<rect x="1627.05" y="2666.85" width="96.10" height="127.50" fill="#fff" stroke="#c8413d" stroke-width="3.9"/>
<line x1="1625.1" y1="2793.6000000000004" x2="1725.1" y2="2793.6000000000004" stroke="#c8413d" stroke-width="5.4"/>
<line x1="1671.4" y1="2639" x2="1671.4" y2="2661.5" stroke="#e03a33" stroke-width="5.8"/>
<text class="bold" x="1659.6" y="2756.7" textLength="33" lengthAdjust="spacingAndGlyphs">M</text>
<text class="cjk" y="1428.9" x="1166.4 1234.6">位置</text>
<text class="mono" y="1426.4" x="1323.5 1358.4 1393.3 1428.2 1463.1 1498.0 1532.9 1567.8">Position</text>
<text class="mono" x="1341.8" y="1499.2" style="text-anchor:start" textLength="35" lengthAdjust="spacingAndGlyphs">A</text>
<text class="cjk" y="2869.6" x="1167.4 1235.6">位置</text>
<text class="mono" y="2867.1" x="1324.5 1359.4 1394.3 1429.2 1464.1 1499.0 1533.9 1568.8">Position</text>
<text class="mono" x="1342.3" y="2946.2" style="text-anchor:start" textLength="35" lengthAdjust="spacingAndGlyphs">B</text>
<text class="mono" transform="translate(126.3,0) rotate(-90)" x="-1112.7 -1077.6 -1042.5 -1007.4 -972.3 -937.2 -902.2 -867.1 -832.0 -796.9 -761.8 -726.7 -691.6 -656.5 -621.4 -586.4 -551.3 -516.2 -481.1 -446.0 -410.9 -375.8 -340.7 -305.6 -270.5 -235.4 -200.4" y="0">Relative fluorescence units</text>
<text class="cjk" transform="translate(57.5,0) rotate(-90)" x="-829.0 -760.6 -692.3 -624.0 -555.6 -487.2" y="0">相对荧光强度</text>
<text class="mono" transform="translate(126.3,0) rotate(-90)" x="-2703.8 -2668.7 -2633.6 -2598.5 -2563.4 -2528.4 -2493.3 -2458.2 -2423.1 -2388.0 -2352.9 -2317.8 -2282.7 -2247.6 -2212.5 -2177.5 -2142.4 -2107.3 -2072.2 -2037.1 -2002.0 -1966.9 -1931.8 -1896.7 -1861.6 -1826.6 -1791.5" y="0">Relative fluorescence units</text>
<text class="cjk" transform="translate(57.5,0) rotate(-90)" x="-2419.0 -2350.7 -2282.3 -2213.9 -2145.6 -2077.2" y="0">相对荧光强度</text>
</svg></body></html>
